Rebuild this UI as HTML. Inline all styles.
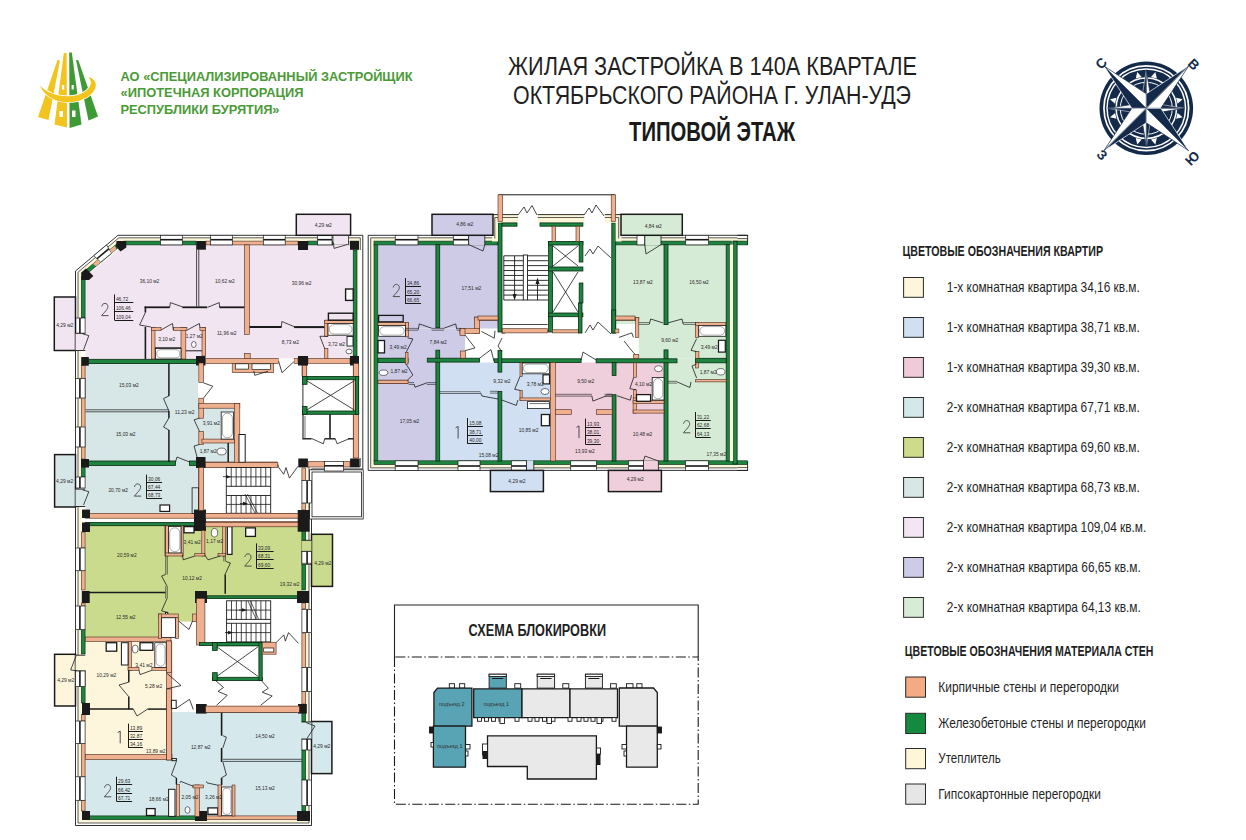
<!DOCTYPE html>
<html><head><meta charset="utf-8"><style>
html,body{margin:0;padding:0;background:#fff;width:1246px;height:840px;overflow:hidden}
svg{display:block}
</style></head><body>
<svg width="1246" height="840" viewBox="0 0 1246 840">
<polygon points="57.5,60 60,60.5 48.5,120 38,117" fill="#f2c41e"/>
<polygon points="63.8,53 66.6,53 67,127.5 54.5,124.5" fill="#f2c41e"/>
<polygon points="69.2,52.5 71.8,52.5 81.5,124.5 69.6,128" fill="#3d9a34"/>
<polygon points="76,60 78.3,60.3 98,116.5 88.5,120.5" fill="#3d9a34"/>
<rect x="62" y="85" width="2.2" height="4.5" fill="#fff"/>
<rect x="71.6" y="85" width="2.2" height="4.5" fill="#fff"/>
<rect x="59.5" y="111" width="3.5" height="6" fill="#fff"/>
<rect x="72" y="110.5" width="3.5" height="6.5" fill="#fff"/>
<path d="M40,83 C44,94 57,99.8 67.5,99.8 C82,99.8 96,92 95.8,82 C95.5,78 92.5,75.5 88.5,74.5 C91.2,78 91.5,81 90,84 C86,90.5 77,93.8 67,93.8 C56,93.8 46,89.5 40,83 Z" fill="#f2c41e" stroke="#fff" stroke-width="1.6" transform="translate(0,2.4)"/>
<path d="M40,83 C44,94 57,99.8 67.5,99.8 C82,99.8 96,92 95.8,82 C95.5,78 92.5,75.5 88.5,74.5 C91.2,78 91.5,81 90,84 C86,90.5 77,93.8 67,93.8 C56,93.8 46,89.5 40,83 Z" fill="#f2c41e" transform="translate(0,2.4)"/>
<text x="120.5" y="81.3" font-family="Liberation Sans" font-size="12.4" font-weight="bold" fill="#4a9a36" text-anchor="start" textLength="292" lengthAdjust="spacingAndGlyphs">АО «СПЕЦИАЛИЗИРОВАННЫЙ ЗАСТРОЙЩИК</text>
<text x="120.5" y="97.4" font-family="Liberation Sans" font-size="12.4" font-weight="bold" fill="#4a9a36" text-anchor="start" textLength="183" lengthAdjust="spacingAndGlyphs">«ИПОТЕЧНАЯ КОРПОРАЦИЯ</text>
<text x="120.5" y="113.5" font-family="Liberation Sans" font-size="12.4" font-weight="bold" fill="#4a9a36" text-anchor="start" textLength="159" lengthAdjust="spacingAndGlyphs">РЕСПУБЛИКИ БУРЯТИЯ»</text>
<text x="508" y="74.7" font-family="Liberation Sans" font-size="25.6" font-weight="normal" fill="#1f1f1f" text-anchor="start" textLength="409" lengthAdjust="spacingAndGlyphs">ЖИЛАЯ ЗАСТРОЙКА В 140А КВАРТАЛЕ</text>
<text x="513" y="104.4" font-family="Liberation Sans" font-size="25.6" font-weight="normal" fill="#1f1f1f" text-anchor="start" textLength="398" lengthAdjust="spacingAndGlyphs">ОКТЯБРЬСКОГО РАЙОНА Г. УЛАН-УДЭ</text>
<text x="629" y="140.8" font-family="Liberation Sans" font-size="26.9" font-weight="bold" fill="#1a1a1a" text-anchor="start" textLength="166" lengthAdjust="spacingAndGlyphs">ТИПОВОЙ ЭТАЖ</text>
<circle cx="1146.3" cy="108.3" r="46.8" fill="#142a4a"/>
<circle cx="1146.3" cy="108.3" r="42.35" fill="none" stroke="#fff" stroke-width="1.7"/>
<circle cx="1146.3" cy="108.3" r="39.25" fill="none" stroke="#fff" stroke-width="1.5"/>
<circle cx="1146.3" cy="108.3" r="30.2" fill="none" stroke="#fff" stroke-width="1.5"/>
<circle cx="1146.3" cy="108.3" r="26.0" fill="none" stroke="#fff" stroke-width="1.0"/>
<polygon points="1135.75,78.51 1137.25,72.01 1141.63,77.05" fill="#fff"/>
<polygon points="1150.97,77.05 1155.35,72.01 1156.85,78.51" fill="#fff"/>
<polygon points="1176.09,97.75 1182.59,99.25 1177.55,103.63" fill="#fff"/>
<polygon points="1177.55,112.97 1182.59,117.35 1176.09,118.85" fill="#fff"/>
<polygon points="1156.85,138.09 1155.35,144.59 1150.97,139.55" fill="#fff"/>
<polygon points="1141.63,139.55 1137.25,144.59 1135.75,138.09" fill="#fff"/>
<polygon points="1116.51,118.85 1110.01,117.35 1115.05,112.97" fill="#fff"/>
<polygon points="1115.05,103.63 1110.01,99.25 1116.51,97.75" fill="#fff"/>
<polygon points="1146.3,108.3 1146.3,69.8 1141.0,103.0" fill="#142a4a" stroke="#fff" stroke-width="0.5" stroke-linejoin="miter"/>
<polygon points="1146.3,108.3 1146.3,69.8 1151.6,103.0" fill="#fff" stroke="#142a4a" stroke-width="0.7" stroke-linejoin="miter"/>
<polygon points="1146.3,108.3 1184.8,108.3 1151.6,103.0" fill="#142a4a" stroke="#fff" stroke-width="0.5" stroke-linejoin="miter"/>
<polygon points="1146.3,108.3 1184.8,108.3 1151.6,113.6" fill="#fff" stroke="#142a4a" stroke-width="0.7" stroke-linejoin="miter"/>
<polygon points="1146.3,108.3 1146.3,146.8 1151.6,113.6" fill="#142a4a" stroke="#fff" stroke-width="0.5" stroke-linejoin="miter"/>
<polygon points="1146.3,108.3 1146.3,146.8 1141.0,113.6" fill="#fff" stroke="#142a4a" stroke-width="0.7" stroke-linejoin="miter"/>
<polygon points="1146.3,108.3 1107.8,108.3 1141.0,113.6" fill="#142a4a" stroke="#fff" stroke-width="0.5" stroke-linejoin="miter"/>
<polygon points="1146.3,108.3 1107.8,108.3 1141.0,103.0" fill="#fff" stroke="#142a4a" stroke-width="0.7" stroke-linejoin="miter"/>
<polygon points="1146.3,108.3 1188.73,65.87 1146.3,93.8" fill="#142a4a" stroke="#fff" stroke-width="0.7" stroke-linejoin="miter"/>
<polygon points="1146.3,108.3 1188.73,65.87 1160.8,108.3" fill="#fff" stroke="#142a4a" stroke-width="0.7" stroke-linejoin="miter"/>
<polygon points="1146.3,108.3 1188.73,150.73 1160.8,108.3" fill="#142a4a" stroke="#fff" stroke-width="0.7" stroke-linejoin="miter"/>
<polygon points="1146.3,108.3 1188.73,150.73 1146.3,122.8" fill="#fff" stroke="#142a4a" stroke-width="0.7" stroke-linejoin="miter"/>
<polygon points="1146.3,108.3 1103.87,150.73 1146.3,122.8" fill="#142a4a" stroke="#fff" stroke-width="0.7" stroke-linejoin="miter"/>
<polygon points="1146.3,108.3 1103.87,150.73 1131.8,108.3" fill="#fff" stroke="#142a4a" stroke-width="0.7" stroke-linejoin="miter"/>
<polygon points="1146.3,108.3 1103.87,65.87 1131.8,108.3" fill="#142a4a" stroke="#fff" stroke-width="0.7" stroke-linejoin="miter"/>
<polygon points="1146.3,108.3 1103.87,65.87 1146.3,93.8" fill="#fff" stroke="#142a4a" stroke-width="0.7" stroke-linejoin="miter"/>
<text x="1101.2" y="63.3" font-family="Liberation Sans" font-size="13.5" font-weight="bold" fill="#142a4a" text-anchor="middle" dominant-baseline="central" transform="rotate(-45 1101.2 63.3)">С</text>
<text x="1193.6" y="64.6" font-family="Liberation Sans" font-size="13.5" font-weight="bold" fill="#142a4a" text-anchor="middle" dominant-baseline="central" transform="rotate(45 1193.6 64.6)">В</text>
<text x="1102" y="155" font-family="Liberation Sans" font-size="13.5" font-weight="bold" fill="#142a4a" text-anchor="middle" dominant-baseline="central" transform="rotate(45 1102 155)">З</text>
<text x="1192.5" y="158.3" font-family="Liberation Sans" font-size="13.5" font-weight="bold" fill="#142a4a" text-anchor="middle" dominant-baseline="central" transform="rotate(-45 1192.5 158.3)">Ю</text>
<text x="902.5" y="256" font-family="Liberation Sans" font-size="13.9" font-weight="bold" fill="#1f1f1f" text-anchor="start" textLength="200.5" lengthAdjust="spacingAndGlyphs">ЦВЕТОВЫЕ ОБОЗНАЧЕНИЯ КВАРТИР</text>
<rect x="903.6" y="277.5" width="19.8" height="19.8" fill="#fdf6dc" stroke="#2a2a2a" stroke-width="1.0"/>
<text x="946.8" y="291.9" font-family="Liberation Sans" font-size="14.1" font-weight="normal" fill="#1f1f1f" text-anchor="start" textLength="193" lengthAdjust="spacingAndGlyphs">1-х комнатная квартира 34,16 кв.м.</text>
<rect x="903.6" y="317.5" width="19.8" height="19.8" fill="#d0e0f2" stroke="#2a2a2a" stroke-width="1.0"/>
<text x="946.8" y="331.9" font-family="Liberation Sans" font-size="14.1" font-weight="normal" fill="#1f1f1f" text-anchor="start" textLength="193" lengthAdjust="spacingAndGlyphs">1-х комнатная квартира 38,71 кв.м.</text>
<rect x="903.6" y="357.5" width="19.8" height="19.8" fill="#efcbd9" stroke="#2a2a2a" stroke-width="1.0"/>
<text x="946.8" y="371.9" font-family="Liberation Sans" font-size="14.1" font-weight="normal" fill="#1f1f1f" text-anchor="start" textLength="193" lengthAdjust="spacingAndGlyphs">1-х комнатная квартира 39,30 кв.м.</text>
<rect x="903.6" y="397.5" width="19.8" height="19.8" fill="#d4e8ea" stroke="#2a2a2a" stroke-width="1.0"/>
<text x="946.8" y="411.9" font-family="Liberation Sans" font-size="14.1" font-weight="normal" fill="#1f1f1f" text-anchor="start" textLength="193" lengthAdjust="spacingAndGlyphs">2-х комнатная квартира 67,71 кв.м.</text>
<rect x="903.6" y="437.5" width="19.8" height="19.8" fill="#cddb8b" stroke="#2a2a2a" stroke-width="1.0"/>
<text x="946.8" y="451.9" font-family="Liberation Sans" font-size="14.1" font-weight="normal" fill="#1f1f1f" text-anchor="start" textLength="193" lengthAdjust="spacingAndGlyphs">2-х комнатная квартира 69,60 кв.м.</text>
<rect x="903.6" y="477.5" width="19.8" height="19.8" fill="#d8e6e6" stroke="#2a2a2a" stroke-width="1.0"/>
<text x="946.8" y="491.9" font-family="Liberation Sans" font-size="14.1" font-weight="normal" fill="#1f1f1f" text-anchor="start" textLength="193" lengthAdjust="spacingAndGlyphs">2-х комнатная квартира 68,73 кв.м.</text>
<rect x="903.6" y="517.5" width="19.8" height="19.8" fill="#f3e5f3" stroke="#2a2a2a" stroke-width="1.0"/>
<text x="946.8" y="531.9" font-family="Liberation Sans" font-size="14.1" font-weight="normal" fill="#1f1f1f" text-anchor="start" textLength="199.5" lengthAdjust="spacingAndGlyphs">2-х комнатная квартира 109,04 кв.м.</text>
<rect x="903.6" y="557.5" width="19.8" height="19.8" fill="#cdcbe8" stroke="#2a2a2a" stroke-width="1.0"/>
<text x="946.8" y="571.9" font-family="Liberation Sans" font-size="14.1" font-weight="normal" fill="#1f1f1f" text-anchor="start" textLength="194" lengthAdjust="spacingAndGlyphs">2-х комнатная квартира 66,65 кв.м.</text>
<rect x="903.6" y="597.5" width="19.8" height="19.8" fill="#d7ecd6" stroke="#2a2a2a" stroke-width="1.0"/>
<text x="946.8" y="611.9" font-family="Liberation Sans" font-size="14.1" font-weight="normal" fill="#1f1f1f" text-anchor="start" textLength="194" lengthAdjust="spacingAndGlyphs">2-х комнатная квартира 64,13 кв.м.</text>
<text x="904.8" y="656" font-family="Liberation Sans" font-size="13.9" font-weight="bold" fill="#1f1f1f" text-anchor="start" textLength="248.6" lengthAdjust="spacingAndGlyphs">ЦВЕТОВЫЕ ОБОЗНАЧЕНИЯ МАТЕРИАЛА СТЕН</text>
<rect x="905.7" y="677" width="19.8" height="20.2" fill="#f4aa82" stroke="#2a2a2a" stroke-width="1.0"/>
<text x="938.3" y="691.8" font-family="Liberation Sans" font-size="14.1" font-weight="normal" fill="#1f1f1f" text-anchor="start" textLength="180.7" lengthAdjust="spacingAndGlyphs">Кирпичные стены и перегородки</text>
<rect x="905.7" y="713.3" width="19.8" height="20.2" fill="#138a3d" stroke="#2a2a2a" stroke-width="1.0"/>
<text x="938.3" y="728.0999999999999" font-family="Liberation Sans" font-size="14.1" font-weight="normal" fill="#1f1f1f" text-anchor="start" textLength="207.5" lengthAdjust="spacingAndGlyphs">Железобетоные стены и перегородки</text>
<rect x="905.7" y="748.5" width="19.8" height="20.2" fill="#fdf7d8" stroke="#2a2a2a" stroke-width="1.0"/>
<text x="938.3" y="763.3" font-family="Liberation Sans" font-size="14.1" font-weight="normal" fill="#1f1f1f" text-anchor="start" textLength="62.4" lengthAdjust="spacingAndGlyphs">Утеплитель</text>
<rect x="905.7" y="784" width="19.8" height="20.2" fill="#e6e6e6" stroke="#2a2a2a" stroke-width="1.0"/>
<text x="938.3" y="798.8" font-family="Liberation Sans" font-size="14.1" font-weight="normal" fill="#1f1f1f" text-anchor="start" textLength="162.6" lengthAdjust="spacingAndGlyphs">Гипсокартонные перегородки</text>
<polygon points="75.5,271 118,235.3 362.8,235.3 362.8,469 311.5,469 311.5,825.5 75.5,825.5" fill="#ffffff" stroke="#1a1a1a" stroke-width="0.9" stroke-linejoin="miter"/>
<polygon points="78.0,272.16 118.91,237.8 360.3,237.8 360.3,466.5 309.0,466.5 309.0,823.0 78.0,823.0" fill="#fbf5d9" stroke="#1a1a1a" stroke-width="0.7" stroke-linejoin="miter"/>
<polygon points="81.3,273.7 120.11,241.1 357.0,241.1 357.0,463.2 305.7,463.2 305.7,819.7 81.3,819.7" fill="#ffffff"/>
<polygon points="85.5,276.5 124,244.9 353.2,244.9 353.2,359 85.5,359" fill="#f2e5f2"/>
<rect x="85.5" y="363" width="112.5" height="151" fill="#d7e6e6"/>
<rect x="198" y="404" width="41" height="58" fill="#d7e6e6"/>
<rect x="85.5" y="525" width="216.5" height="71" fill="#cadb8d"/>
<rect x="85.5" y="596" width="79.9" height="41" fill="#cadb8d"/>
<rect x="165" y="596" width="32" height="25.6" fill="#cadb8d"/>
<rect x="85.5" y="641" width="80.5" height="113" fill="#fdf6dc"/>
<rect x="85.5" y="759" width="89.5" height="57" fill="#d5e8ec"/>
<rect x="172" y="712" width="130" height="104" fill="#d5e8ec"/>
<rect x="309.6" y="469.8" width="53.6" height="49.2" fill="#fff" stroke="#1a1a1a" stroke-width="0.8"/>
<rect x="312" y="472" width="49.4" height="44.8" fill="#fff" stroke="#1a1a1a" stroke-width="0.8"/>
<rect x="124" y="241.10000000000002" width="72" height="3.8" fill="#1e8440" stroke="#062a12" stroke-width="0.6"/>
<rect x="206" y="241.10000000000002" width="92" height="3.8" fill="#eeb08e" stroke="#4a2a1c" stroke-width="0.6"/>
<rect x="308" y="241.10000000000002" width="41" height="3.8" fill="#1e8440" stroke="#062a12" stroke-width="0.6"/>
<rect x="160.4" y="235.3" width="21.9" height="9.6" fill="#fff" stroke="#1a1a1a" stroke-width="0.7"/>
<rect x="160.4" y="238.9" width="21.9" height="1.6" fill="#1a1a1a"/>
<rect x="210.6" y="235.3" width="21.7" height="9.6" fill="#fff" stroke="#1a1a1a" stroke-width="0.7"/>
<rect x="210.6" y="238.9" width="21.7" height="1.6" fill="#1a1a1a"/>
<rect x="263.3" y="235.3" width="21.9" height="9.6" fill="#fff" stroke="#1a1a1a" stroke-width="0.7"/>
<rect x="263.3" y="238.9" width="21.9" height="1.6" fill="#1a1a1a"/>
<rect x="317.6" y="235.3" width="14.4" height="9.6" fill="#fff" stroke="#1a1a1a" stroke-width="0.7"/>
<rect x="317.6" y="238.9" width="14.4" height="1.6" fill="#1a1a1a"/>
<polygon points="81.3,273.7 120.11,241.1 121.5,244.9 85.1,275.47" fill="#1e8440" stroke="#062a12" stroke-width="0.6" stroke-linejoin="miter"/>
<polygon points="93.775,255.649 106.525,244.93900000000002 111.672,253.15390000000002 100.752,262.3249" fill="#fff" stroke="#1a1a1a" stroke-width="0.7" stroke-linejoin="miter"/>
<polygon points="96.3903,258.1546 108.4533,248.0206 109.3087,249.3884 97.5517,259.2644" fill="#1a1a1a"/>
<polygon points="92.943,263.92 97.9883,259.682 100.752,262.3249 96.02,266.29900000000004" fill="#eeb08e"/>
<polygon points="109.6313,249.902 114.67660000000001,245.664 116.404,249.1798 111.672,253.15390000000002" fill="#eeb08e"/>
<rect x="81.3" y="276" width="3.8" height="42" fill="#1e8440" stroke="#062a12" stroke-width="0.6"/>
<rect x="81.3" y="365" width="3.8" height="94" fill="#eeb08e" stroke="#4a2a1c" stroke-width="0.6"/>
<rect x="81.3" y="467" width="3.8" height="10" fill="#1e8440" stroke="#062a12" stroke-width="0.6"/>
<rect x="81.3" y="532" width="3.8" height="16" fill="#eeb08e" stroke="#4a2a1c" stroke-width="0.6"/>
<rect x="81.3" y="570.7" width="3.8" height="19.3" fill="#eeb08e" stroke="#4a2a1c" stroke-width="0.6"/>
<rect x="81.3" y="603" width="3.8" height="3" fill="#eeb08e" stroke="#4a2a1c" stroke-width="0.6"/>
<rect x="81.3" y="629.6" width="3.8" height="24.4" fill="#1e8440" stroke="#062a12" stroke-width="0.6"/>
<rect x="81.3" y="685.7" width="3.8" height="17.3" fill="#1e8440" stroke="#062a12" stroke-width="0.6"/>
<rect x="81.3" y="714.6" width="3.8" height="6.4" fill="#eeb08e" stroke="#4a2a1c" stroke-width="0.6"/>
<rect x="81.3" y="743.6" width="3.8" height="33.2" fill="#eeb08e" stroke="#4a2a1c" stroke-width="0.6"/>
<rect x="81.3" y="800.3" width="3.8" height="10.7" fill="#eeb08e" stroke="#4a2a1c" stroke-width="0.6"/>
<rect x="75.5" y="318" width="9.6" height="15.3" fill="#fff" stroke="#1a1a1a" stroke-width="0.7"/>
<rect x="79.1" y="318" width="1.6" height="15.3" fill="#1a1a1a"/>
<rect x="75.5" y="378.6" width="9.6" height="19.4" fill="#fff" stroke="#1a1a1a" stroke-width="0.7"/>
<rect x="79.1" y="378.6" width="1.6" height="19.4" fill="#1a1a1a"/>
<rect x="75.5" y="427" width="9.6" height="20" fill="#fff" stroke="#1a1a1a" stroke-width="0.7"/>
<rect x="79.1" y="427" width="1.6" height="20" fill="#1a1a1a"/>
<rect x="75.5" y="477" width="9.6" height="11" fill="#fff" stroke="#1a1a1a" stroke-width="0.7"/>
<rect x="79.1" y="477" width="1.6" height="11" fill="#1a1a1a"/>
<rect x="75.5" y="548" width="9.6" height="22.7" fill="#fff" stroke="#1a1a1a" stroke-width="0.7"/>
<rect x="79.1" y="548" width="1.6" height="22.7" fill="#1a1a1a"/>
<rect x="75.5" y="606" width="9.6" height="23.6" fill="#fff" stroke="#1a1a1a" stroke-width="0.7"/>
<rect x="79.1" y="606" width="1.6" height="23.6" fill="#1a1a1a"/>
<rect x="75.5" y="670.7" width="9.6" height="15.0" fill="#fff" stroke="#1a1a1a" stroke-width="0.7"/>
<rect x="79.1" y="670.7" width="1.6" height="15.0" fill="#1a1a1a"/>
<rect x="75.5" y="721" width="9.6" height="22.6" fill="#fff" stroke="#1a1a1a" stroke-width="0.7"/>
<rect x="79.1" y="721" width="1.6" height="22.6" fill="#1a1a1a"/>
<rect x="75.5" y="776.8" width="9.6" height="23.5" fill="#fff" stroke="#1a1a1a" stroke-width="0.7"/>
<rect x="79.1" y="776.8" width="1.6" height="23.5" fill="#1a1a1a"/>
<rect x="85.5" y="815.9" width="110.5" height="3.8" fill="#1e8440" stroke="#062a12" stroke-width="0.6"/>
<rect x="206" y="815.9" width="92" height="3.8" fill="#eeb08e" stroke="#4a2a1c" stroke-width="0.6"/>
<rect x="301.9" y="468" width="3.8" height="12.5" fill="#eeb08e" stroke="#4a2a1c" stroke-width="0.6"/>
<rect x="301.9" y="503" width="3.8" height="7" fill="#eeb08e" stroke="#4a2a1c" stroke-width="0.6"/>
<rect x="301.9" y="531" width="3.8" height="21" fill="#1e8440" stroke="#062a12" stroke-width="0.6"/>
<rect x="301.9" y="564.3" width="3.8" height="25.7" fill="#1e8440" stroke="#062a12" stroke-width="0.6"/>
<rect x="301.9" y="603" width="3.8" height="6" fill="#eeb08e" stroke="#4a2a1c" stroke-width="0.6"/>
<rect x="301.9" y="633" width="3.8" height="34.4" fill="#eeb08e" stroke="#4a2a1c" stroke-width="0.6"/>
<rect x="301.9" y="691.4" width="3.8" height="12.6" fill="#eeb08e" stroke="#4a2a1c" stroke-width="0.6"/>
<rect x="301.9" y="713.6" width="3.8" height="8.4" fill="#1e8440" stroke="#062a12" stroke-width="0.6"/>
<rect x="301.9" y="750" width="3.8" height="30" fill="#1e8440" stroke="#062a12" stroke-width="0.6"/>
<rect x="301.9" y="805.7" width="3.8" height="5.3" fill="#1e8440" stroke="#062a12" stroke-width="0.6"/>
<rect x="301.9" y="480.5" width="9.6" height="22.5" fill="#fff" stroke="#1a1a1a" stroke-width="0.7"/>
<rect x="306.3" y="480.5" width="1.6" height="22.5" fill="#1a1a1a"/>
<rect x="301.9" y="552.5" width="9.6" height="11.8" fill="#fff" stroke="#1a1a1a" stroke-width="0.7"/>
<rect x="306.3" y="552.5" width="1.6" height="11.8" fill="#1a1a1a"/>
<rect x="301.9" y="609.3" width="9.6" height="23.3" fill="#fff" stroke="#1a1a1a" stroke-width="0.7"/>
<rect x="306.3" y="609.3" width="1.6" height="23.3" fill="#1a1a1a"/>
<rect x="301.9" y="667.4" width="9.6" height="24.0" fill="#fff" stroke="#1a1a1a" stroke-width="0.7"/>
<rect x="306.3" y="667.4" width="1.6" height="24.0" fill="#1a1a1a"/>
<rect x="301.9" y="739" width="9.6" height="11" fill="#fff" stroke="#1a1a1a" stroke-width="0.7"/>
<rect x="306.3" y="739" width="1.6" height="11" fill="#1a1a1a"/>
<rect x="301.9" y="780" width="9.6" height="25.7" fill="#fff" stroke="#1a1a1a" stroke-width="0.7"/>
<rect x="306.3" y="780" width="1.6" height="25.7" fill="#1a1a1a"/>
<rect x="358.3" y="250" width="3.7" height="208" fill="#fff"/>
<rect x="353.2" y="250" width="3.8" height="106" fill="#1e8440" stroke="#062a12" stroke-width="0.6"/>
<rect x="353.2" y="365" width="3.8" height="93" fill="#eeb08e" stroke="#4a2a1c" stroke-width="0.6"/>
<rect x="85.5" y="359.3" width="111.5" height="4.3" fill="#1e8440" stroke="#062a12" stroke-width="0.8"/>
<rect x="85.5" y="461" width="90.0" height="4.4" fill="#1e8440" stroke="#062a12" stroke-width="0.8"/>
<rect x="189.5" y="461" width="7.5" height="4.4" fill="#1e8440" stroke="#062a12" stroke-width="0.8"/>
<rect x="85.5" y="522.5" width="111.5" height="3.2" fill="#1e8440" stroke="#062a12" stroke-width="0.8"/>
<rect x="207" y="595.8" width="91" height="2.8" fill="#1e8440" stroke="#062a12" stroke-width="0.8"/>
<rect x="308" y="358.6" width="42" height="4.7" fill="#eeb08e" stroke="#4a2a1c" stroke-width="0.6"/>
<rect x="205" y="462" width="72" height="5" fill="#eeb08e" stroke="#4a2a1c" stroke-width="0.6"/>
<rect x="308" y="461.4" width="16.5" height="5.6" fill="#eeb08e" stroke="#4a2a1c" stroke-width="0.6"/>
<rect x="343.6" y="461.4" width="6.4" height="5.6" fill="#eeb08e" stroke="#4a2a1c" stroke-width="0.6"/>
<rect x="85.5" y="513.3" width="110.5" height="4.9" fill="#eeb08e" stroke="#4a2a1c" stroke-width="0.6"/>
<rect x="206" y="513.3" width="92" height="4.7" fill="#eeb08e" stroke="#4a2a1c" stroke-width="0.6"/>
<rect x="206" y="521.4" width="92" height="4.6" fill="#eeb08e" stroke="#4a2a1c" stroke-width="0.6"/>
<rect x="85.5" y="637" width="85.5" height="4.4" fill="#eeb08e" stroke="#4a2a1c" stroke-width="0.6"/>
<rect x="85.5" y="754.3" width="86.5" height="5.3" fill="#eeb08e" stroke="#4a2a1c" stroke-width="0.6"/>
<rect x="206" y="707" width="91" height="5.5" fill="#eeb08e" stroke="#4a2a1c" stroke-width="0.6"/>
<rect x="244.3" y="244.9" width="5.1" height="89.5" fill="#eeb08e" stroke="#4a2a1c" stroke-width="0.6"/>
<rect x="166.4" y="641" width="5.4" height="119" fill="#eeb08e" stroke="#4a2a1c" stroke-width="0.6"/>
<rect x="302" y="363" width="4.7" height="13" fill="#eeb08e" stroke="#4a2a1c" stroke-width="0.6"/>
<rect x="324.5" y="461.4" width="19.1" height="9.6" fill="#fff" stroke="#1a1a1a" stroke-width="0.7"/>
<rect x="324.5" y="465.0" width="19.1" height="1.6" fill="#1a1a1a"/>
<polygon points="116.5,241 126.3,241 126.3,247.6 120.5,251.4 116,246.5" fill="#1a1a1a"/>
<polygon points="81.3,272.5 86,268.6 93.4,276 89,280 81.3,280" fill="#1a1a1a"/>
<rect x="196.2" y="241" width="9.7" height="8.7" fill="#1a1a1a"/>
<rect x="298" y="241" width="10" height="9" fill="#1a1a1a"/>
<rect x="350" y="240.8" width="9" height="9.0" fill="#1a1a1a"/>
<rect x="81.2" y="357" width="7.6" height="8.7" fill="#1a1a1a"/>
<rect x="196" y="356" width="9.5" height="9.5" fill="#1a1a1a"/>
<rect x="298" y="356" width="10" height="9.5" fill="#1a1a1a"/>
<rect x="350" y="356" width="9" height="9.5" fill="#1a1a1a"/>
<rect x="81" y="459" width="8" height="8.5" fill="#1a1a1a"/>
<rect x="196" y="457" width="9.5" height="11" fill="#1a1a1a"/>
<rect x="298.3" y="458.5" width="9.6" height="8.9" fill="#1a1a1a"/>
<rect x="350.1" y="458.5" width="9.5" height="8.9" fill="#1a1a1a"/>
<rect x="82" y="509.6" width="8" height="8.4" fill="#1a1a1a"/>
<rect x="194" y="509.6" width="12" height="21.4" fill="#1a1a1a"/>
<rect x="297.7" y="510" width="11.9" height="21.7" fill="#1a1a1a"/>
<rect x="82" y="522.5" width="8" height="9.5" fill="#1a1a1a"/>
<rect x="195" y="591" width="12" height="12" fill="#1a1a1a"/>
<rect x="297" y="591" width="12" height="12" fill="#1a1a1a"/>
<rect x="81.8" y="591" width="7.9" height="12" fill="#1a1a1a"/>
<rect x="82" y="703" width="8" height="12" fill="#1a1a1a"/>
<rect x="196" y="704" width="10.7" height="9.6" fill="#1a1a1a"/>
<rect x="298" y="704" width="8.8" height="9.6" fill="#1a1a1a"/>
<rect x="82" y="811" width="8" height="9" fill="#1a1a1a"/>
<rect x="195" y="811" width="12" height="10" fill="#1a1a1a"/>
<rect x="297" y="811" width="13" height="10" fill="#1a1a1a"/>
<line x1="196.6" y1="249.7" x2="196.6" y2="306.5" stroke="#1a1a1a" stroke-width="0.8"/>
<line x1="198.8" y1="249.7" x2="198.8" y2="306.5" stroke="#1a1a1a" stroke-width="0.8"/>
<line x1="144.6" y1="307.3" x2="169.6" y2="307.3" stroke="#1a1a1a" stroke-width="1.8"/>
<line x1="182.2" y1="307.3" x2="207.2" y2="307.3" stroke="#1a1a1a" stroke-width="1.8"/>
<line x1="219.7" y1="307.3" x2="244.3" y2="307.3" stroke="#1a1a1a" stroke-width="1.8"/>
<polyline points="169.6,307.8 170.4,302.6 182.2,306.8" fill="none" stroke="#1a1a1a" stroke-width="0.8" stroke-linejoin="miter"/>
<polyline points="207.7,307.3 219.2,302.6 219.7,307.8" fill="none" stroke="#1a1a1a" stroke-width="0.8" stroke-linejoin="miter"/>
<line x1="145.4" y1="306.5" x2="145.4" y2="312.5" stroke="#1a1a1a" stroke-width="1.6"/>
<polyline points="145.4,312.5 139.6,325 150.9,327" fill="none" stroke="#1a1a1a" stroke-width="0.8" stroke-linejoin="miter"/>
<line x1="145.4" y1="327" x2="145.4" y2="359" stroke="#1a1a1a" stroke-width="1.6"/>
<rect x="151.4" y="327.6" width="3.6" height="31.4" fill="#eeb08e" stroke="#4a2a1c" stroke-width="0.6"/>
<rect x="181" y="327.6" width="4.8" height="31.4" fill="#eeb08e" stroke="#4a2a1c" stroke-width="0.6"/>
<rect x="202" y="327.6" width="3.6" height="28.4" fill="#eeb08e" stroke="#4a2a1c" stroke-width="0.6"/>
<rect x="151.4" y="327.6" width="9.6" height="2.7" fill="#eeb08e" stroke="#4a2a1c" stroke-width="0.6"/>
<rect x="173.3" y="327.6" width="13.6" height="2.7" fill="#eeb08e" stroke="#4a2a1c" stroke-width="0.6"/>
<rect x="199.9" y="327.6" width="5.7" height="2.7" fill="#eeb08e" stroke="#4a2a1c" stroke-width="0.6"/>
<polyline points="161,330 172.5,323.5 173.3,330" fill="none" stroke="#1a1a1a" stroke-width="0.8" stroke-linejoin="miter"/>
<polyline points="186.9,330.2 199.4,323.5 199.9,327.6" fill="none" stroke="#1a1a1a" stroke-width="0.8" stroke-linejoin="miter"/>
<rect x="155.5" y="348.5" width="25.5" height="10.5" fill="#fff" stroke="#1a1a1a" stroke-width="0.8"/>
<rect x="156.7" y="349.7" width="23.1" height="8.1" rx="4.05" fill="#fff" stroke="#555" stroke-width="0.5"/>
<line x1="155" y1="347.8" x2="181" y2="347.8" stroke="#1a1a1a" stroke-width="1.0"/>
<line x1="185.8" y1="350.8" x2="202" y2="350.8" stroke="#1a1a1a" stroke-width="1.0"/>
<ellipse cx="193.8" cy="344.5" rx="2.3" ry="3.0" fill="#fff" stroke="#1a1a1a" stroke-width="0.6" transform="rotate(0 193.8 344.5)"/>
<line x1="249.6" y1="327.1" x2="281.3" y2="327.1" stroke="#1a1a1a" stroke-width="2.0"/>
<line x1="294.1" y1="327.1" x2="324.7" y2="327.1" stroke="#1a1a1a" stroke-width="2.0"/>
<polyline points="281.3,327.6 281.8,321.5 294.1,326.6" fill="none" stroke="#1a1a1a" stroke-width="0.8" stroke-linejoin="miter"/>
<rect x="324.7" y="320.2" width="3.2" height="16.1" fill="#eeb08e" stroke="#4a2a1c" stroke-width="0.6"/>
<rect x="324.7" y="348.6" width="3.2" height="10.0" fill="#eeb08e" stroke="#4a2a1c" stroke-width="0.6"/>
<rect x="324.7" y="320.2" width="28.5" height="3.2" fill="#eeb08e" stroke="#4a2a1c" stroke-width="0.6"/>
<rect x="328" y="323.4" width="25.2" height="11.8" fill="#fff" stroke="#1a1a1a" stroke-width="0.8"/>
<rect x="329.2" y="324.59999999999997" width="22.8" height="9.4" rx="4.7000000000000055" fill="#fff" stroke="#555" stroke-width="0.5"/>
<rect x="328.4" y="313.2" width="24.8" height="7.0" fill="none" stroke="#1a1a1a" stroke-width="1.4"/>
<rect x="345.6" y="289" width="7.6" height="11.4" fill="#fff" stroke="#1a1a1a" stroke-width="1.4"/>
<polyline points="324.7,348.6 319.9,336.3 327.9,336.3" fill="none" stroke="#1a1a1a" stroke-width="0.8" stroke-linejoin="miter"/>
<rect x="347" y="336.5" width="6" height="9.5" fill="#fff" stroke="#1a1a1a" stroke-width="0.9"/>
<ellipse cx="349" cy="351.5" rx="3.0" ry="2.4" fill="#fff" stroke="#1a1a1a" stroke-width="0.6" transform="rotate(0 349 351.5)"/>
<rect x="244.3" y="353.4" width="5.9" height="5.6" fill="#eeb08e" stroke="#4a2a1c" stroke-width="0.6"/>
<line x1="168.9" y1="363.6" x2="168.9" y2="396" stroke="#1a1a1a" stroke-width="1.5"/>
<line x1="168.9" y1="411" x2="168.9" y2="418" stroke="#1a1a1a" stroke-width="1.5"/>
<line x1="168.9" y1="430" x2="168.9" y2="462" stroke="#1a1a1a" stroke-width="1.5"/>
<polyline points="168.9,396 163.5,398.5 168.9,411" fill="none" stroke="#1a1a1a" stroke-width="0.8" stroke-linejoin="miter"/>
<polyline points="168.9,418 163.5,427 168.9,430" fill="none" stroke="#1a1a1a" stroke-width="0.8" stroke-linejoin="miter"/>
<line x1="85.5" y1="409.8" x2="168.9" y2="409.8" stroke="#1a1a1a" stroke-width="0.7"/>
<line x1="85.5" y1="411.8" x2="168.9" y2="411.8" stroke="#1a1a1a" stroke-width="0.7"/>
<rect x="198.8" y="363" width="4.6" height="19.4" fill="#eeb08e" stroke="#4a2a1c" stroke-width="0.6"/>
<rect x="198.8" y="398.2" width="4.6" height="20.0" fill="#eeb08e" stroke="#4a2a1c" stroke-width="0.6"/>
<rect x="198.8" y="431.4" width="4.6" height="13.1" fill="#eeb08e" stroke="#4a2a1c" stroke-width="0.6"/>
<rect x="198.6" y="468" width="4.2" height="42" fill="#eeb08e" stroke="#4a2a1c" stroke-width="0.6"/>
<polyline points="203.4,382.8 212.8,386.3 203.4,398.2" fill="none" stroke="#1a1a1a" stroke-width="0.8" stroke-linejoin="miter"/>
<rect x="198.8" y="403.5" width="41.0" height="4.7" fill="#eeb08e" stroke="#4a2a1c" stroke-width="0.6"/>
<rect x="234.4" y="403.5" width="5.4" height="59.6" fill="#eeb08e" stroke="#4a2a1c" stroke-width="0.6"/>
<rect x="201.9" y="439.1" width="32.5" height="3.9" fill="#eeb08e" stroke="#4a2a1c" stroke-width="0.6"/>
<rect x="221.2" y="412" width="12.4" height="27.1" fill="#fff" stroke="#1a1a1a" stroke-width="0.8"/>
<rect x="222.39999999999998" y="413.2" width="10.0" height="24.7" rx="5.000000000000003" fill="#fff" stroke="#555" stroke-width="0.5"/>
<polyline points="199.5,418.2 194.1,419.8 199.5,431.4" fill="none" stroke="#1a1a1a" stroke-width="0.8" stroke-linejoin="miter"/>
<polyline points="199.5,444.5 194.1,446 197.2,457.7" fill="none" stroke="#1a1a1a" stroke-width="0.8" stroke-linejoin="miter"/>
<ellipse cx="221.6" cy="451.5" rx="4.6" ry="3.4" fill="#fff" stroke="#1a1a1a" stroke-width="0.6" transform="rotate(0 221.6 451.5)"/>
<line x1="228.2" y1="443" x2="228.2" y2="462" stroke="#1a1a1a" stroke-width="1.5"/>
<rect x="239" y="434.5" width="6.2" height="27.8" fill="#fff" stroke="#1a1a1a" stroke-width="1.0"/>
<polyline points="175.5,462 177,457 189.5,462" fill="none" stroke="#1a1a1a" stroke-width="0.8" stroke-linejoin="miter"/>
<rect x="192.1" y="487.8" width="6.5" height="25.8" fill="none" stroke="#1a1a1a" stroke-width="0.8"/>
<rect x="160" y="505" width="9.6" height="6.4" fill="#fff" stroke="#1a1a1a" stroke-width="1.2"/>
<line x1="165.4" y1="525.7" x2="165.4" y2="556" stroke="#1a1a1a" stroke-width="1.5"/>
<line x1="165.7" y1="556" x2="165.7" y2="574.5" stroke="#1a1a1a" stroke-width="0.6"/>
<line x1="167.3" y1="556" x2="167.3" y2="574.5" stroke="#1a1a1a" stroke-width="0.6"/>
<polyline points="165.5,574.5 161.6,576 167,586.1" fill="none" stroke="#1a1a1a" stroke-width="0.8" stroke-linejoin="miter"/>
<line x1="165.7" y1="586.1" x2="165.7" y2="598.5" stroke="#1a1a1a" stroke-width="0.6"/>
<line x1="167.3" y1="586.1" x2="167.3" y2="598.5" stroke="#1a1a1a" stroke-width="0.6"/>
<polyline points="167,598.5 161.6,610.8 167,612.4" fill="none" stroke="#1a1a1a" stroke-width="0.8" stroke-linejoin="miter"/>
<rect x="165.5" y="612.4" width="2.3" height="2.3" fill="#fff" stroke="#1a1a1a" stroke-width="1.0"/>
<line x1="165.4" y1="614.7" x2="165.4" y2="637" stroke="#1a1a1a" stroke-width="1.5"/>
<line x1="85.5" y1="592.6" x2="165.4" y2="592.6" stroke="#1a1a1a" stroke-width="1.5"/>
<rect x="165.5" y="525.8" width="3.0" height="30.2" fill="#eeb08e" stroke="#4a2a1c" stroke-width="0.6"/>
<rect x="181" y="525.8" width="2.2" height="30.2" fill="#eeb08e" stroke="#4a2a1c" stroke-width="0.6"/>
<rect x="165.5" y="552.9" width="17.0" height="3.1" fill="#eeb08e" stroke="#4a2a1c" stroke-width="0.6"/>
<rect x="168.5" y="526.6" width="12.5" height="26.3" fill="#fff" stroke="#1a1a1a" stroke-width="0.8"/>
<rect x="169.7" y="527.8000000000001" width="10.1" height="23.9" rx="5.05" fill="#fff" stroke="#555" stroke-width="0.5"/>
<rect x="184" y="526.6" width="10" height="6.2" fill="#fff" stroke="#1a1a1a" stroke-width="1.3"/>
<rect x="201.8" y="530.5" width="3.1" height="25.5" fill="#eeb08e" stroke="#4a2a1c" stroke-width="0.6"/>
<rect x="194.8" y="553.6" width="10.1" height="2.4" fill="#eeb08e" stroke="#4a2a1c" stroke-width="0.6"/>
<ellipse cx="214.5" cy="532.7" rx="3.2" ry="4.3" fill="#fff" stroke="#1a1a1a" stroke-width="0.6" transform="rotate(0 214.5 532.7)"/>
<rect x="222.6" y="525.8" width="3.1" height="30.2" fill="#eeb08e" stroke="#4a2a1c" stroke-width="0.6"/>
<rect x="218" y="553.6" width="7.7" height="2.4" fill="#eeb08e" stroke="#4a2a1c" stroke-width="0.6"/>
<rect x="227.3" y="526.6" width="4.7" height="27.8" fill="#fff" stroke="#1a1a1a" stroke-width="1.2"/>
<polyline points="182.5,555.2 183.2,559.8 194.8,556" fill="none" stroke="#1a1a1a" stroke-width="0.8" stroke-linejoin="miter"/>
<polyline points="204.9,555.2 208,559.8 220.3,556" fill="none" stroke="#1a1a1a" stroke-width="0.8" stroke-linejoin="miter"/>
<line x1="223.8" y1="556" x2="223.8" y2="561.4" stroke="#1a1a1a" stroke-width="0.6"/>
<line x1="225.4" y1="556" x2="225.4" y2="561.4" stroke="#1a1a1a" stroke-width="0.6"/>
<polyline points="225.7,561.4 230.4,563 225,574.5" fill="none" stroke="#1a1a1a" stroke-width="0.8" stroke-linejoin="miter"/>
<line x1="225.2" y1="574.5" x2="225.2" y2="593.8" stroke="#1a1a1a" stroke-width="1.5"/>
<rect x="245.7" y="527.9" width="9.7" height="8.5" fill="#fff" stroke="#1a1a1a" stroke-width="1.3"/>
<rect x="158.5" y="614" width="20.1" height="3.8" fill="#eeb08e" stroke="#4a2a1c" stroke-width="0.6"/>
<rect x="158.5" y="614" width="3.1" height="24.6" fill="#eeb08e" stroke="#4a2a1c" stroke-width="0.6"/>
<rect x="175.5" y="617.8" width="3.1" height="20.8" fill="#eeb08e" stroke="#4a2a1c" stroke-width="0.6"/>
<rect x="161.6" y="617.8" width="13.9" height="19.7" fill="#fff" stroke="#1a1a1a" stroke-width="0.8"/>
<rect x="192.5" y="614" width="3.9" height="7.6" fill="#eeb08e" stroke="#4a2a1c" stroke-width="0.6"/>
<polyline points="178.6,621 189,629.5 192.5,621" fill="none" stroke="#1a1a1a" stroke-width="0.8" stroke-linejoin="miter"/>
<rect x="128.1" y="641.7" width="3.3" height="28.6" fill="#eeb08e" stroke="#4a2a1c" stroke-width="0.6"/>
<rect x="128.1" y="667.4" width="10.9" height="2.9" fill="#eeb08e" stroke="#4a2a1c" stroke-width="0.6"/>
<rect x="151.9" y="667.4" width="14.8" height="2.9" fill="#eeb08e" stroke="#4a2a1c" stroke-width="0.6"/>
<polyline points="139,670.3 140,674.6 151.9,670.3" fill="none" stroke="#1a1a1a" stroke-width="0.8" stroke-linejoin="miter"/>
<rect x="106.2" y="642.7" width="10.5" height="8.5" fill="#fff" stroke="#1a1a1a" stroke-width="1.3"/>
<rect x="121.4" y="642.7" width="6.7" height="22.3" fill="#fff" stroke="#1a1a1a" stroke-width="1.0"/>
<ellipse cx="135.2" cy="649" rx="3.0" ry="4.0" fill="#fff" stroke="#1a1a1a" stroke-width="0.6" transform="rotate(0 135.2 649)"/>
<rect x="140" y="642.7" width="12.9" height="7.6" fill="#fff" stroke="#1a1a1a" stroke-width="1.3"/>
<rect x="154.8" y="642.7" width="11.4" height="24.7" fill="#fff" stroke="#1a1a1a" stroke-width="0.8"/>
<rect x="156.0" y="643.9000000000001" width="9.0" height="22.3" rx="4.4999999999999885" fill="#fff" stroke="#555" stroke-width="0.5"/>
<line x1="128.8" y1="670.3" x2="128.8" y2="682.2" stroke="#1a1a1a" stroke-width="1.5"/>
<line x1="128.8" y1="696.5" x2="128.8" y2="709.3" stroke="#1a1a1a" stroke-width="1.5"/>
<polyline points="128.6,682.2 119,685 128.6,696.5" fill="none" stroke="#1a1a1a" stroke-width="0.8" stroke-linejoin="miter"/>
<line x1="85.5" y1="709.1" x2="133.3" y2="709.1" stroke="#1a1a1a" stroke-width="1.5"/>
<line x1="147.6" y1="709.1" x2="166.7" y2="709.1" stroke="#1a1a1a" stroke-width="1.5"/>
<polyline points="133.3,709.1 137,716 147.6,709.1" fill="none" stroke="#1a1a1a" stroke-width="0.8" stroke-linejoin="miter"/>
<rect x="166.7" y="641" width="4.7" height="31.7" fill="#eeb08e" stroke="#4a2a1c" stroke-width="0.6"/>
<rect x="166.7" y="688.9" width="4.7" height="71.1" fill="#eeb08e" stroke="#4a2a1c" stroke-width="0.6"/>
<polyline points="166.7,673.1 181,685.5 166.7,688.9" fill="none" stroke="#1a1a1a" stroke-width="0.8" stroke-linejoin="miter"/>
<line x1="221.6" y1="712.5" x2="221.6" y2="735.7" stroke="#1a1a1a" stroke-width="1.6"/>
<line x1="221.6" y1="747.9" x2="221.6" y2="762" stroke="#1a1a1a" stroke-width="1.6"/>
<line x1="221.6" y1="777.9" x2="221.6" y2="785" stroke="#1a1a1a" stroke-width="1.6"/>
<polyline points="222.9,735.7 226.4,737.1 222.9,747.9" fill="none" stroke="#1a1a1a" stroke-width="0.8" stroke-linejoin="miter"/>
<polyline points="222.9,762 226.4,775 221.4,777.9" fill="none" stroke="#1a1a1a" stroke-width="0.8" stroke-linejoin="miter"/>
<line x1="222.9" y1="759.3" x2="301.9" y2="759.3" stroke="#1a1a1a" stroke-width="0.7"/>
<line x1="222.9" y1="761.4" x2="301.9" y2="761.4" stroke="#1a1a1a" stroke-width="0.7"/>
<rect x="172" y="758.6" width="4.4" height="2.1" fill="#fff" stroke="#1a1a1a" stroke-width="1.0"/>
<polyline points="176.4,761.4 171.4,775 176.4,777.9" fill="none" stroke="#1a1a1a" stroke-width="0.8" stroke-linejoin="miter"/>
<line x1="176.4" y1="777.9" x2="176.4" y2="784.3" stroke="#1a1a1a" stroke-width="1.4"/>
<rect x="176.4" y="784.3" width="2.9" height="32.1" fill="#eeb08e" stroke="#4a2a1c" stroke-width="0.6"/>
<rect x="168.6" y="789.3" width="6.4" height="27.1" fill="#fff" stroke="#1a1a1a" stroke-width="1.0"/>
<rect x="195" y="785" width="4.3" height="31.4" fill="#eeb08e" stroke="#4a2a1c" stroke-width="0.6"/>
<rect x="192.9" y="785" width="10.7" height="2.9" fill="#eeb08e" stroke="#4a2a1c" stroke-width="0.6"/>
<polyline points="180,782.9 180.7,781.4 193.6,786.4" fill="none" stroke="#1a1a1a" stroke-width="0.8" stroke-linejoin="miter"/>
<polyline points="206.4,781.4 207.1,782.9 220,785.7" fill="none" stroke="#1a1a1a" stroke-width="0.8" stroke-linejoin="miter"/>
<ellipse cx="187.5" cy="810" rx="2.5" ry="3.3" fill="#fff" stroke="#1a1a1a" stroke-width="0.6" transform="rotate(0 187.5 810)"/>
<rect x="207.9" y="807.9" width="10.0" height="6.4" fill="#fff" stroke="#1a1a1a" stroke-width="1.3"/>
<rect x="218" y="785" width="3.6" height="31" fill="#eeb08e" stroke="#4a2a1c" stroke-width="0.6"/>
<rect x="221.6" y="787" width="10.5" height="28.7" fill="#fff" stroke="#1a1a1a" stroke-width="0.8"/>
<rect x="222.79999999999998" y="788.2" width="8.1" height="26.3" rx="4.05" fill="#fff" stroke="#555" stroke-width="0.5"/>
<rect x="232.1" y="785" width="2.9" height="31" fill="#eeb08e" stroke="#4a2a1c" stroke-width="0.6"/>
<rect x="146.5" y="808.6" width="8.6" height="6.9" fill="#fff" stroke="#1a1a1a" stroke-width="1.3"/>
<rect x="205.7" y="358.5" width="72.9" height="4.9" fill="#eeb08e" stroke="#4a2a1c" stroke-width="0.6"/>
<rect x="294" y="358.5" width="4" height="4.9" fill="#eeb08e" stroke="#4a2a1c" stroke-width="0.6"/>
<rect x="278.6" y="358.5" width="15.4" height="4.9" fill="#fff"/>
<polyline points="278.6,361.2 282,372.7 294,361.6" fill="none" stroke="#1a1a1a" stroke-width="0.8" stroke-linejoin="miter"/>
<rect x="232.2" y="363.4" width="41.5" height="9.2" fill="#eeb08e" stroke="#4a2a1c" stroke-width="0.6"/>
<rect x="235.3" y="363.8" width="13.2" height="5.3" fill="#fff" stroke="#1a1a1a" stroke-width="0.7"/>
<rect x="252" y="363.8" width="18.6" height="5.8" fill="#fff" stroke="#1a1a1a" stroke-width="0.7"/>
<polyline points="253.8,370.9 254.7,375.3 268,371.3" fill="none" stroke="#1a1a1a" stroke-width="0.8" stroke-linejoin="miter"/>
<rect x="302.4" y="365.6" width="4.4" height="10.8" fill="#eeb08e" stroke="#4a2a1c" stroke-width="0.6"/>
<rect x="353.5" y="363.4" width="5.2" height="94.6" fill="#eeb08e" stroke="#4a2a1c" stroke-width="0.6"/>
<rect x="302.4" y="376.4" width="56.3" height="3.3" fill="#1e8440" stroke="#062a12" stroke-width="0.8"/>
<rect x="302.4" y="411.0" width="56.3" height="3.3" fill="#1e8440" stroke="#062a12" stroke-width="0.8"/>
<rect x="355.4" y="376.4" width="3.3" height="37.9" fill="#1e8440" stroke="#062a12" stroke-width="0.8"/>
<rect x="302.4" y="376.4" width="4.62" height="7.92" fill="#1e8440" stroke="#062a12" stroke-width="0.8"/>
<rect x="302.4" y="406.38" width="4.62" height="7.92" fill="#1e8440" stroke="#062a12" stroke-width="0.8"/>
<line x1="306.7" y1="380.7" x2="354.4" y2="410.0" stroke="#1a1a1a" stroke-width="0.8"/>
<line x1="354.4" y1="380.7" x2="306.7" y2="410.0" stroke="#1a1a1a" stroke-width="0.8"/>
<line x1="302.9" y1="384" x2="302.9" y2="406.5" stroke="#1a1a1a" stroke-width="0.9"/>
<line x1="303" y1="414.3" x2="303" y2="438.5" stroke="#1a1a1a" stroke-width="1.1"/>
<line x1="305" y1="416" x2="305" y2="438.5" stroke="#1a1a1a" stroke-width="0.6"/>
<line x1="330" y1="414.3" x2="330" y2="438.5" stroke="#1a1a1a" stroke-width="1.6"/>
<line x1="302.4" y1="438.8" x2="311.6" y2="438.8" stroke="#1a1a1a" stroke-width="1.4"/>
<line x1="324.7" y1="438.8" x2="335.2" y2="438.8" stroke="#1a1a1a" stroke-width="1.4"/>
<line x1="348.2" y1="438.8" x2="353.5" y2="438.8" stroke="#1a1a1a" stroke-width="1.4"/>
<polyline points="311.6,438.5 323.4,443.8 324.7,438.5" fill="none" stroke="#1a1a1a" stroke-width="0.8" stroke-linejoin="miter"/>
<polyline points="335.2,438.5 337.1,443.8 349.6,438.5" fill="none" stroke="#1a1a1a" stroke-width="0.8" stroke-linejoin="miter"/>
<rect x="205.6" y="462.7" width="72.3" height="4.8" fill="#eeb08e" stroke="#4a2a1c" stroke-width="0.6"/>
<polyline points="277.9,464.6 278.4,467 283.7,474.3 286,467.5 289.4,478.1 298.1,466.1" fill="none" stroke="#1a1a1a" stroke-width="0.8" stroke-linejoin="miter"/>
<rect x="198.9" y="467.5" width="4.8" height="42.9" fill="#eeb08e" stroke="#4a2a1c" stroke-width="0.6"/>
<rect x="226.3" y="467.5" width="44.4" height="45.8" fill="#fff" stroke="#1a1a1a" stroke-width="0.9"/>
<line x1="226.3" y1="486.3" x2="270.7" y2="486.3" stroke="#1a1a1a" stroke-width="0.9"/>
<line x1="226.3" y1="495.5" x2="270.7" y2="495.5" stroke="#1a1a1a" stroke-width="0.9"/>
<line x1="231.23333333333335" y1="467.5" x2="231.23333333333335" y2="486.3" stroke="#1a1a1a" stroke-width="0.8"/>
<line x1="231.23333333333335" y1="495.5" x2="231.23333333333335" y2="513.3" stroke="#1a1a1a" stroke-width="0.8"/>
<line x1="236.16666666666669" y1="467.5" x2="236.16666666666669" y2="486.3" stroke="#1a1a1a" stroke-width="0.8"/>
<line x1="236.16666666666669" y1="495.5" x2="236.16666666666669" y2="513.3" stroke="#1a1a1a" stroke-width="0.8"/>
<line x1="241.1" y1="467.5" x2="241.1" y2="486.3" stroke="#1a1a1a" stroke-width="0.8"/>
<line x1="241.1" y1="495.5" x2="241.1" y2="513.3" stroke="#1a1a1a" stroke-width="0.8"/>
<line x1="246.03333333333333" y1="467.5" x2="246.03333333333333" y2="486.3" stroke="#1a1a1a" stroke-width="0.8"/>
<line x1="246.03333333333333" y1="495.5" x2="246.03333333333333" y2="513.3" stroke="#1a1a1a" stroke-width="0.8"/>
<line x1="250.96666666666667" y1="467.5" x2="250.96666666666667" y2="486.3" stroke="#1a1a1a" stroke-width="0.8"/>
<line x1="250.96666666666667" y1="495.5" x2="250.96666666666667" y2="513.3" stroke="#1a1a1a" stroke-width="0.8"/>
<line x1="255.9" y1="467.5" x2="255.9" y2="486.3" stroke="#1a1a1a" stroke-width="0.8"/>
<line x1="255.9" y1="495.5" x2="255.9" y2="513.3" stroke="#1a1a1a" stroke-width="0.8"/>
<line x1="260.8333333333333" y1="467.5" x2="260.8333333333333" y2="486.3" stroke="#1a1a1a" stroke-width="0.8"/>
<line x1="260.8333333333333" y1="495.5" x2="260.8333333333333" y2="513.3" stroke="#1a1a1a" stroke-width="0.8"/>
<line x1="265.76666666666665" y1="467.5" x2="265.76666666666665" y2="486.3" stroke="#1a1a1a" stroke-width="0.8"/>
<line x1="265.76666666666665" y1="495.5" x2="265.76666666666665" y2="513.3" stroke="#1a1a1a" stroke-width="0.8"/>
<line x1="226.3" y1="476.9" x2="270.7" y2="476.9" stroke="#1a1a1a" stroke-width="0.8"/>
<line x1="226.3" y1="504.4" x2="270.7" y2="504.4" stroke="#1a1a1a" stroke-width="0.8"/>
<polygon points="231,476.7 226,474.9 226,478.5" fill="#1a1a1a"/>
<line x1="223" y1="476.7" x2="227" y2="476.7" stroke="#1a1a1a" stroke-width="0.8"/>
<polygon points="248,503.6 243,501.8 243,505.40000000000003" fill="#1a1a1a"/>
<line x1="240" y1="503.6" x2="244" y2="503.6" stroke="#1a1a1a" stroke-width="0.8"/>
<polyline points="245,494 255,513" fill="none" stroke="#1a1a1a" stroke-width="0.7" stroke-linejoin="miter"/>
<polyline points="247.5,494 257.5,513" fill="none" stroke="#1a1a1a" stroke-width="0.7" stroke-linejoin="miter"/>
<rect x="205.6" y="513.3" width="92.4" height="4.8" fill="#eeb08e" stroke="#4a2a1c" stroke-width="0.6"/>
<rect x="205.6" y="522.4" width="92.4" height="4.4" fill="#eeb08e" stroke="#4a2a1c" stroke-width="0.6"/>
<rect x="226.6" y="600.8" width="44.1" height="41.1" fill="#fff" stroke="#1a1a1a" stroke-width="0.9"/>
<line x1="226.6" y1="619.4" x2="270.7" y2="619.4" stroke="#1a1a1a" stroke-width="0.9"/>
<line x1="226.6" y1="623.3" x2="270.7" y2="623.3" stroke="#1a1a1a" stroke-width="0.9"/>
<line x1="231.5" y1="600.8" x2="231.5" y2="619.4" stroke="#1a1a1a" stroke-width="0.8"/>
<line x1="231.5" y1="623.3" x2="231.5" y2="641.9" stroke="#1a1a1a" stroke-width="0.8"/>
<line x1="236.4" y1="600.8" x2="236.4" y2="619.4" stroke="#1a1a1a" stroke-width="0.8"/>
<line x1="236.4" y1="623.3" x2="236.4" y2="641.9" stroke="#1a1a1a" stroke-width="0.8"/>
<line x1="241.29999999999998" y1="600.8" x2="241.29999999999998" y2="619.4" stroke="#1a1a1a" stroke-width="0.8"/>
<line x1="241.29999999999998" y1="623.3" x2="241.29999999999998" y2="641.9" stroke="#1a1a1a" stroke-width="0.8"/>
<line x1="246.2" y1="600.8" x2="246.2" y2="619.4" stroke="#1a1a1a" stroke-width="0.8"/>
<line x1="246.2" y1="623.3" x2="246.2" y2="641.9" stroke="#1a1a1a" stroke-width="0.8"/>
<line x1="251.1" y1="600.8" x2="251.1" y2="619.4" stroke="#1a1a1a" stroke-width="0.8"/>
<line x1="251.1" y1="623.3" x2="251.1" y2="641.9" stroke="#1a1a1a" stroke-width="0.8"/>
<line x1="256.0" y1="600.8" x2="256.0" y2="619.4" stroke="#1a1a1a" stroke-width="0.8"/>
<line x1="256.0" y1="623.3" x2="256.0" y2="641.9" stroke="#1a1a1a" stroke-width="0.8"/>
<line x1="260.9" y1="600.8" x2="260.9" y2="619.4" stroke="#1a1a1a" stroke-width="0.8"/>
<line x1="260.9" y1="623.3" x2="260.9" y2="641.9" stroke="#1a1a1a" stroke-width="0.8"/>
<line x1="265.8" y1="600.8" x2="265.8" y2="619.4" stroke="#1a1a1a" stroke-width="0.8"/>
<line x1="265.8" y1="623.3" x2="265.8" y2="641.9" stroke="#1a1a1a" stroke-width="0.8"/>
<line x1="226.6" y1="610.0999999999999" x2="270.7" y2="610.0999999999999" stroke="#1a1a1a" stroke-width="0.8"/>
<line x1="226.6" y1="632.5999999999999" x2="270.7" y2="632.5999999999999" stroke="#1a1a1a" stroke-width="0.8"/>
<polygon points="247,610 242,608.2 242,611.8" fill="#1a1a1a"/>
<line x1="239" y1="610" x2="243" y2="610" stroke="#1a1a1a" stroke-width="0.8"/>
<polygon points="233,632.6 228,630.8000000000001 228,634.4" fill="#1a1a1a"/>
<line x1="225" y1="632.6" x2="229" y2="632.6" stroke="#1a1a1a" stroke-width="0.8"/>
<polyline points="248,601 256,619" fill="none" stroke="#1a1a1a" stroke-width="0.7" stroke-linejoin="miter"/>
<polyline points="250.5,601 258.5,619" fill="none" stroke="#1a1a1a" stroke-width="0.7" stroke-linejoin="miter"/>
<rect x="196.4" y="598.5" width="8.5" height="46.5" fill="#eeb08e" stroke="#4a2a1c" stroke-width="0.6"/>
<rect x="199.5" y="642.6" width="62.7" height="2.8" fill="#1e8440" stroke="#062a12" stroke-width="0.8"/>
<rect x="212.6" y="642.6" width="49.6" height="3.3" fill="#1e8440" stroke="#062a12" stroke-width="0.8"/>
<rect x="212.6" y="677.3000000000001" width="49.6" height="3.3" fill="#1e8440" stroke="#062a12" stroke-width="0.8"/>
<rect x="258.9" y="642.6" width="3.3" height="38.0" fill="#1e8440" stroke="#062a12" stroke-width="0.8"/>
<rect x="212.6" y="642.6" width="4.62" height="7.92" fill="#1e8440" stroke="#062a12" stroke-width="0.8"/>
<rect x="212.6" y="672.6800000000001" width="4.62" height="7.92" fill="#1e8440" stroke="#062a12" stroke-width="0.8"/>
<line x1="216.9" y1="646.9" x2="257.9" y2="676.3000000000001" stroke="#1a1a1a" stroke-width="0.8"/>
<line x1="257.9" y1="646.9" x2="216.9" y2="676.3000000000001" stroke="#1a1a1a" stroke-width="0.8"/>
<rect x="262.2" y="642.6" width="13.9" height="11.6" fill="#eeb08e" stroke="#4a2a1c" stroke-width="0.6"/>
<rect x="263.7" y="648" width="10.1" height="4" fill="#fff" stroke="#1a1a1a" stroke-width="0.7"/>
<polyline points="276.1,642.6 283.8,634.9 285.4,641.1 288.5,632.6 298.5,643.4" fill="none" stroke="#1a1a1a" stroke-width="0.8" stroke-linejoin="miter"/>
<polyline points="215.7,680.6 223.5,687.5 218,691.4 227.3,695.3 216.5,705.3" fill="none" stroke="#1a1a1a" stroke-width="0.8" stroke-linejoin="miter"/>
<polyline points="261.4,680.6 268.4,688.3 262.2,692.2 272.2,696 260.6,705.3" fill="none" stroke="#1a1a1a" stroke-width="0.8" stroke-linejoin="miter"/>
<rect x="205.7" y="706.1" width="93.6" height="6.2" fill="#eeb08e" stroke="#4a2a1c" stroke-width="0.6"/>
<polyline points="176.2,708.4 189.5,699.3 193.3,709.5" fill="none" stroke="#1a1a1a" stroke-width="0.8" stroke-linejoin="miter"/>
<rect x="171.4" y="700.3" width="4.8" height="8.1" fill="#fff" stroke="#1a1a1a" stroke-width="1.0"/>
<polygon points="368.2,235.3 747.6,235.3 747.6,470.4 368.2,470.4" fill="#ffffff" stroke="#1a1a1a" stroke-width="0.9" stroke-linejoin="miter"/>
<polygon points="370.7,237.8 745.1,237.8 745.1,467.9 370.7,467.9" fill="#fbf5d9" stroke="#1a1a1a" stroke-width="0.7" stroke-linejoin="miter"/>
<rect x="374" y="241.2" width="363.1" height="223.3" fill="#fff"/>
<rect x="498.2" y="234" width="117.2" height="11" fill="#fff"/>
<rect x="737.3" y="236" width="11.7" height="233.8" fill="#fff"/>
<rect x="737.3" y="238.6" width="10.3" height="2.9" fill="#fbf5d9"/>
<rect x="737.3" y="464.3" width="10.3" height="3.3" fill="#fbf5d9"/>
<line x1="737.3" y1="235.3" x2="747.6" y2="235.3" stroke="#1a1a1a" stroke-width="0.9"/>
<line x1="737.3" y1="238.6" x2="747.6" y2="238.6" stroke="#1a1a1a" stroke-width="0.7"/>
<line x1="737.3" y1="467.6" x2="747.6" y2="467.6" stroke="#1a1a1a" stroke-width="0.7"/>
<line x1="737.3" y1="470.4" x2="747.6" y2="470.4" stroke="#1a1a1a" stroke-width="0.9"/>
<line x1="747.6" y1="235.3" x2="747.6" y2="244.8" stroke="#1a1a1a" stroke-width="0.9"/>
<line x1="747.6" y1="461" x2="747.6" y2="470.4" stroke="#1a1a1a" stroke-width="0.9"/>
<rect x="378" y="244.9" width="120" height="83.6" fill="#cecbe7"/>
<rect x="378" y="328.5" width="58" height="132.3" fill="#cecbe7"/>
<rect x="436" y="328.5" width="29" height="30.0" fill="#cecbe7"/>
<rect x="439.7" y="362.5" width="110.9" height="98.3" fill="#d0e0f2"/>
<rect x="555.4" y="362.5" width="56.6" height="98.3" fill="#f0cfdc"/>
<rect x="612" y="362.5" width="52" height="98.3" fill="#f0cfdc"/>
<rect x="615.7" y="244.9" width="110.5" height="79.1" fill="#d6ebd6"/>
<rect x="638.8" y="324" width="87.4" height="34.5" fill="#d6ebd6"/>
<rect x="668" y="358.5" width="58.2" height="102.3" fill="#d6ebd6"/>
<polygon points="465.4,335.7 498,335.7 498,332 615.7,332 615.7,337.5 633.7,337.5 633.7,358.3 465.4,358.3" fill="#fff"/>
<rect x="374.0" y="244.6" width="3.8" height="216.4" fill="#1e8440" stroke="#062a12" stroke-width="0.6"/>
<rect x="374" y="241.10000000000002" width="124" height="3.8" fill="#1e8440" stroke="#062a12" stroke-width="0.6"/>
<rect x="615.7" y="241.10000000000002" width="115.7" height="3.8" fill="#1e8440" stroke="#062a12" stroke-width="0.6"/>
<rect x="733" y="241.10000000000002" width="14.6" height="3.8" fill="#1e8440" stroke="#062a12" stroke-width="0.6"/>
<rect x="395.2" y="235.3" width="22.8" height="9.6" fill="#fff" stroke="#1a1a1a" stroke-width="0.7"/>
<rect x="395.2" y="238.9" width="22.8" height="1.6" fill="#1a1a1a"/>
<rect x="453.3" y="235.3" width="15.3" height="9.6" fill="#fff" stroke="#1a1a1a" stroke-width="0.7"/>
<rect x="453.3" y="238.9" width="15.3" height="1.6" fill="#1a1a1a"/>
<rect x="685.7" y="235.3" width="22.9" height="9.6" fill="#fff" stroke="#1a1a1a" stroke-width="0.7"/>
<rect x="685.7" y="238.9" width="22.9" height="1.6" fill="#1a1a1a"/>
<rect x="637" y="235.3" width="7.8" height="9.6" fill="#fff" stroke="#1a1a1a" stroke-width="0.7"/>
<rect x="468.6" y="235.8" width="16.2" height="9.4" fill="#cecbe7"/>
<line x1="468.6" y1="235.8" x2="468.6" y2="245" stroke="#1a1a1a" stroke-width="0.8"/>
<line x1="484.8" y1="235.8" x2="484.8" y2="245" stroke="#1a1a1a" stroke-width="0.8"/>
<rect x="644.8" y="235.8" width="16.2" height="9.4" fill="#d6ebd6"/>
<line x1="644.8" y1="235.8" x2="644.8" y2="245" stroke="#1a1a1a" stroke-width="0.8"/>
<line x1="661" y1="235.8" x2="661" y2="245" stroke="#1a1a1a" stroke-width="0.8"/>
<polyline points="468.6,244.6 483,251 484.8,244.6" fill="none" stroke="#1a1a1a" stroke-width="0.8" stroke-linejoin="miter"/>
<polyline points="644.8,244.6 646,254 661,244.6" fill="none" stroke="#1a1a1a" stroke-width="0.8" stroke-linejoin="miter"/>
<rect x="374" y="460.79999999999995" width="363.1" height="3.8" fill="#1e8440" stroke="#062a12" stroke-width="0.6"/>
<rect x="737.1" y="460.79999999999995" width="10.5" height="3.8" fill="#1e8440" stroke="#062a12" stroke-width="0.6"/>
<rect x="395.2" y="460.79999999999995" width="22.8" height="9.6" fill="#fff" stroke="#1a1a1a" stroke-width="0.7"/>
<rect x="395.2" y="465.2" width="22.8" height="1.6" fill="#1a1a1a"/>
<rect x="458" y="460.79999999999995" width="22" height="9.6" fill="#fff" stroke="#1a1a1a" stroke-width="0.7"/>
<rect x="458" y="465.2" width="22" height="1.6" fill="#1a1a1a"/>
<rect x="511.3" y="460.79999999999995" width="15.2" height="9.6" fill="#fff" stroke="#1a1a1a" stroke-width="0.7"/>
<rect x="511.3" y="465.2" width="15.2" height="1.6" fill="#1a1a1a"/>
<rect x="570.7" y="460.79999999999995" width="25.7" height="9.6" fill="#fff" stroke="#1a1a1a" stroke-width="0.7"/>
<rect x="570.7" y="465.2" width="25.7" height="1.6" fill="#1a1a1a"/>
<rect x="628.5" y="460.79999999999995" width="15.2" height="9.6" fill="#fff" stroke="#1a1a1a" stroke-width="0.7"/>
<rect x="628.5" y="465.2" width="15.2" height="1.6" fill="#1a1a1a"/>
<rect x="685.4" y="460.79999999999995" width="23.0" height="9.6" fill="#fff" stroke="#1a1a1a" stroke-width="0.7"/>
<rect x="685.4" y="465.2" width="23.0" height="1.6" fill="#1a1a1a"/>
<rect x="526.5" y="460.5" width="7.3" height="9.5" fill="#d0e0f2"/>
<line x1="526.5" y1="460.5" x2="526.5" y2="470" stroke="#1a1a1a" stroke-width="0.8"/>
<line x1="533.8" y1="460.5" x2="533.8" y2="470" stroke="#1a1a1a" stroke-width="0.8"/>
<rect x="643.5" y="460.5" width="14.9" height="9.5" fill="#f0cfdc"/>
<line x1="643.5" y1="460.5" x2="643.5" y2="470" stroke="#1a1a1a" stroke-width="0.8"/>
<line x1="658.4" y1="460.5" x2="658.4" y2="470" stroke="#1a1a1a" stroke-width="0.8"/>
<polyline points="643.3,461 645,456 658.4,461" fill="none" stroke="#1a1a1a" stroke-width="0.8" stroke-linejoin="miter"/>
<rect x="726.2" y="244.6" width="3.6" height="216.4" fill="#1e8440" stroke="#062a12" stroke-width="0.8"/>
<rect x="733.1" y="241.2" width="4.0" height="222.8" fill="#1e8440" stroke="#062a12" stroke-width="0.8"/>
<rect x="729.8" y="244.6" width="3.3" height="216.4" fill="#fbf5d9"/>
<rect x="435.9" y="244.6" width="3.8" height="83.1" fill="#1e8440" stroke="#062a12" stroke-width="0.8"/>
<rect x="435.9" y="350.2" width="3.8" height="110.8" fill="#1e8440" stroke="#062a12" stroke-width="0.8"/>
<rect x="498" y="222.9" width="4" height="109.1" fill="#1e8440" stroke="#062a12" stroke-width="0.8"/>
<rect x="611.8" y="222.9" width="3.9" height="110.1" fill="#1e8440" stroke="#062a12" stroke-width="0.8"/>
<rect x="664" y="244.6" width="4" height="80.0" fill="#1e8440" stroke="#062a12" stroke-width="0.8"/>
<rect x="664" y="349.9" width="4" height="111.1" fill="#1e8440" stroke="#062a12" stroke-width="0.8"/>
<rect x="378" y="358.2" width="30" height="4.3" fill="#1e8440" stroke="#062a12" stroke-width="0.8"/>
<rect x="427.3" y="358.2" width="52.3" height="3.9" fill="#1e8440" stroke="#062a12" stroke-width="0.8"/>
<rect x="494.3" y="358.8" width="86.8" height="3.7" fill="#1e8440" stroke="#062a12" stroke-width="0.8"/>
<rect x="596.1" y="358.8" width="80.9" height="4.0" fill="#1e8440" stroke="#062a12" stroke-width="0.8"/>
<rect x="695.5" y="358.3" width="30.7" height="4.5" fill="#1e8440" stroke="#062a12" stroke-width="0.8"/>
<rect x="498" y="350.5" width="3.8" height="21.6" fill="#1e8440" stroke="#062a12" stroke-width="0.8"/>
<rect x="498" y="391.4" width="3.8" height="69.6" fill="#1e8440" stroke="#062a12" stroke-width="0.8"/>
<rect x="612.2" y="362.5" width="3.8" height="12.9" fill="#1e8440" stroke="#062a12" stroke-width="0.8"/>
<rect x="612.2" y="394.7" width="3.8" height="66.3" fill="#1e8440" stroke="#062a12" stroke-width="0.8"/>
<rect x="611.8" y="310" width="3.9" height="23" fill="#1e8440" stroke="#062a12" stroke-width="0.8"/>
<rect x="378" y="322.3" width="30.6" height="3.2" fill="#eeb08e" stroke="#4a2a1c" stroke-width="0.6"/>
<rect x="405.4" y="322.3" width="3.2" height="14.5" fill="#eeb08e" stroke="#4a2a1c" stroke-width="0.6"/>
<rect x="405.4" y="352.3" width="2.6" height="11.8" fill="#eeb08e" stroke="#4a2a1c" stroke-width="0.6"/>
<rect x="378" y="380.2" width="30" height="3.2" fill="#eeb08e" stroke="#4a2a1c" stroke-width="0.6"/>
<rect x="474.3" y="317.1" width="23.6" height="3.3" fill="#eeb08e" stroke="#4a2a1c" stroke-width="0.6"/>
<rect x="474.3" y="317.1" width="5.3" height="16.5" fill="#eeb08e" stroke="#4a2a1c" stroke-width="0.6"/>
<rect x="460" y="328.6" width="19.6" height="5.0" fill="#eeb08e" stroke="#4a2a1c" stroke-width="0.6"/>
<rect x="460" y="328.6" width="5" height="6.8" fill="#eeb08e" stroke="#4a2a1c" stroke-width="0.6"/>
<rect x="460.4" y="351" width="5.0" height="7.2" fill="#eeb08e" stroke="#4a2a1c" stroke-width="0.6"/>
<rect x="501.8" y="329.3" width="3.2" height="3.9" fill="#eeb08e" stroke="#4a2a1c" stroke-width="0.6"/>
<rect x="550.6" y="362.5" width="4.8" height="98.5" fill="#eeb08e" stroke="#4a2a1c" stroke-width="0.6"/>
<rect x="520" y="362.5" width="2.2" height="13.9" fill="#eeb08e" stroke="#4a2a1c" stroke-width="0.6"/>
<rect x="520" y="390.4" width="2.2" height="10.2" fill="#eeb08e" stroke="#4a2a1c" stroke-width="0.6"/>
<rect x="520" y="397.9" width="30.6" height="2.7" fill="#eeb08e" stroke="#4a2a1c" stroke-width="0.6"/>
<rect x="555.4" y="409.7" width="16.1" height="4.8" fill="#eeb08e" stroke="#4a2a1c" stroke-width="0.6"/>
<rect x="596.6" y="409.7" width="15.6" height="4.8" fill="#eeb08e" stroke="#4a2a1c" stroke-width="0.6"/>
<rect x="615.7" y="317.3" width="23.1" height="3.2" fill="#eeb08e" stroke="#4a2a1c" stroke-width="0.6"/>
<rect x="635.6" y="317.3" width="3.2" height="20.2" fill="#eeb08e" stroke="#4a2a1c" stroke-width="0.6"/>
<rect x="633.7" y="354.4" width="5.1" height="3.9" fill="#eeb08e" stroke="#4a2a1c" stroke-width="0.6"/>
<rect x="633.7" y="362.8" width="2.8" height="14.6" fill="#eeb08e" stroke="#4a2a1c" stroke-width="0.6"/>
<rect x="633.7" y="389.8" width="2.8" height="10.9" fill="#eeb08e" stroke="#4a2a1c" stroke-width="0.6"/>
<rect x="695.5" y="322.4" width="3.2" height="15.1" fill="#eeb08e" stroke="#4a2a1c" stroke-width="0.6"/>
<rect x="695.5" y="322.4" width="30.3" height="3.0" fill="#eeb08e" stroke="#4a2a1c" stroke-width="0.6"/>
<rect x="695.5" y="351.6" width="3.4" height="6.7" fill="#eeb08e" stroke="#4a2a1c" stroke-width="0.6"/>
<rect x="695.5" y="379.7" width="30.7" height="2.2" fill="#eeb08e" stroke="#4a2a1c" stroke-width="0.6"/>
<rect x="695.5" y="362.8" width="3.0" height="5.2" fill="#eeb08e" stroke="#4a2a1c" stroke-width="0.6"/>
<rect x="633.1" y="398" width="3.4" height="15.1" fill="#eeb08e" stroke="#4a2a1c" stroke-width="0.6"/>
<rect x="633.1" y="400.7" width="30.9" height="2.8" fill="#eeb08e" stroke="#4a2a1c" stroke-width="0.6"/>
<rect x="633.1" y="410" width="30.9" height="3.1" fill="#eeb08e" stroke="#4a2a1c" stroke-width="0.6"/>
<rect x="378" y="380.2" width="30" height="3.2" fill="#eeb08e" stroke="#4a2a1c" stroke-width="0.6"/>
<line x1="378" y1="328.40000000000003" x2="408.6" y2="328.40000000000003" stroke="#1a1a1a" stroke-width="0.6"/>
<line x1="378" y1="330.2" x2="408.6" y2="330.2" stroke="#1a1a1a" stroke-width="0.6"/>
<line x1="409" y1="328.40000000000003" x2="418.2" y2="328.40000000000003" stroke="#1a1a1a" stroke-width="0.6"/>
<line x1="409" y1="330.2" x2="418.2" y2="330.2" stroke="#1a1a1a" stroke-width="0.6"/>
<line x1="431.6" y1="328.40000000000003" x2="444" y2="328.40000000000003" stroke="#1a1a1a" stroke-width="0.6"/>
<line x1="431.6" y1="330.2" x2="444" y2="330.2" stroke="#1a1a1a" stroke-width="0.6"/>
<line x1="456.8" y1="328.40000000000003" x2="460.6" y2="328.40000000000003" stroke="#1a1a1a" stroke-width="0.6"/>
<line x1="456.8" y1="330.2" x2="460.6" y2="330.2" stroke="#1a1a1a" stroke-width="0.6"/>
<line x1="408.6" y1="382.6" x2="414" y2="382.6" stroke="#1a1a1a" stroke-width="0.6"/>
<line x1="408.6" y1="384.4" x2="414" y2="384.4" stroke="#1a1a1a" stroke-width="0.6"/>
<line x1="426.8" y1="382.6" x2="435.9" y2="382.6" stroke="#1a1a1a" stroke-width="0.6"/>
<line x1="426.8" y1="384.4" x2="435.9" y2="384.4" stroke="#1a1a1a" stroke-width="0.6"/>
<line x1="439.7" y1="391.70000000000005" x2="480.4" y2="391.70000000000005" stroke="#1a1a1a" stroke-width="0.6"/>
<line x1="439.7" y1="393.5" x2="480.4" y2="393.5" stroke="#1a1a1a" stroke-width="0.6"/>
<line x1="490" y1="391.3" x2="498" y2="391.3" stroke="#1a1a1a" stroke-width="0.6"/>
<line x1="490" y1="393.09999999999997" x2="498" y2="393.09999999999997" stroke="#1a1a1a" stroke-width="0.6"/>
<line x1="555.4" y1="394.3" x2="591.8" y2="394.3" stroke="#1a1a1a" stroke-width="0.6"/>
<line x1="555.4" y1="396.09999999999997" x2="591.8" y2="396.09999999999997" stroke="#1a1a1a" stroke-width="0.6"/>
<line x1="606.8" y1="394.3" x2="612.2" y2="394.3" stroke="#1a1a1a" stroke-width="0.6"/>
<line x1="606.8" y1="396.09999999999997" x2="612.2" y2="396.09999999999997" stroke="#1a1a1a" stroke-width="0.6"/>
<line x1="604.5" y1="394.3" x2="611.8" y2="394.3" stroke="#1a1a1a" stroke-width="0.6"/>
<line x1="604.5" y1="396.09999999999997" x2="611.8" y2="396.09999999999997" stroke="#1a1a1a" stroke-width="0.6"/>
<line x1="638.8" y1="322.6" x2="649.4" y2="322.6" stroke="#1a1a1a" stroke-width="0.6"/>
<line x1="638.8" y1="324.4" x2="649.4" y2="324.4" stroke="#1a1a1a" stroke-width="0.6"/>
<line x1="683.1" y1="322.6" x2="695.5" y2="322.6" stroke="#1a1a1a" stroke-width="0.6"/>
<line x1="683.1" y1="324.4" x2="695.5" y2="324.4" stroke="#1a1a1a" stroke-width="0.6"/>
<line x1="668" y1="381.3" x2="677" y2="381.3" stroke="#1a1a1a" stroke-width="0.6"/>
<line x1="668" y1="383.09999999999997" x2="677" y2="383.09999999999997" stroke="#1a1a1a" stroke-width="0.6"/>
<polyline points="418.2,329.8 419.3,323.9 431.6,328.2" fill="none" stroke="#1a1a1a" stroke-width="0.8" stroke-linejoin="miter"/>
<polyline points="444,328.2 455.7,323.9 456.8,329.3" fill="none" stroke="#1a1a1a" stroke-width="0.8" stroke-linejoin="miter"/>
<polyline points="406.4,351.8 412.9,338.9 407.5,337.9" fill="none" stroke="#1a1a1a" stroke-width="0.8" stroke-linejoin="miter"/>
<polyline points="406.4,364.5 412.9,375 407.5,380" fill="none" stroke="#1a1a1a" stroke-width="0.8" stroke-linejoin="miter"/>
<polyline points="414,384 415,387.2 426.8,382.9" fill="none" stroke="#1a1a1a" stroke-width="0.8" stroke-linejoin="miter"/>
<polyline points="481.4,331.4 494.3,338.2 495,330.7" fill="none" stroke="#1a1a1a" stroke-width="0.8" stroke-linejoin="miter"/>
<polyline points="465,335 475,347.9 465,350.7" fill="none" stroke="#1a1a1a" stroke-width="0.8" stroke-linejoin="miter"/>
<polyline points="479.6,358.2 491,349.6 494,361.4" fill="none" stroke="#1a1a1a" stroke-width="0.8" stroke-linejoin="miter"/>
<polyline points="480.4,392.6 482,396 498,399" fill="none" stroke="#1a1a1a" stroke-width="0.8" stroke-linejoin="miter"/>
<polyline points="501.8,400 516.3,405.4 517.9,400" fill="none" stroke="#1a1a1a" stroke-width="0.8" stroke-linejoin="miter"/>
<polyline points="520,376.4 514.7,389.3 520,390.4" fill="none" stroke="#1a1a1a" stroke-width="0.8" stroke-linejoin="miter"/>
<polyline points="591.8,395.7 592.9,401.1 606.8,395.7" fill="none" stroke="#1a1a1a" stroke-width="0.8" stroke-linejoin="miter"/>
<polyline points="616.9,395.7 630.3,400.2 631.5,395.1" fill="none" stroke="#1a1a1a" stroke-width="0.8" stroke-linejoin="miter"/>
<polyline points="581.1,360 583,352 596.1,360" fill="none" stroke="#1a1a1a" stroke-width="0.8" stroke-linejoin="miter"/>
<polyline points="649.4,324 650.6,319 663,322.9" fill="none" stroke="#1a1a1a" stroke-width="0.8" stroke-linejoin="miter"/>
<polyline points="668,322.9 682,319 683.1,324" fill="none" stroke="#1a1a1a" stroke-width="0.8" stroke-linejoin="miter"/>
<polyline points="696.6,338.7 691,350.4 696.6,351.6" fill="none" stroke="#1a1a1a" stroke-width="0.8" stroke-linejoin="miter"/>
<polyline points="696.6,364 692,366 696.6,378" fill="none" stroke="#1a1a1a" stroke-width="0.8" stroke-linejoin="miter"/>
<polyline points="677,381.9 689.9,387.5 691,381.9" fill="none" stroke="#1a1a1a" stroke-width="0.8" stroke-linejoin="miter"/>
<polyline points="633.7,377.4 629.8,388.7 636,389.8" fill="none" stroke="#1a1a1a" stroke-width="0.8" stroke-linejoin="miter"/>
<polyline points="624.2,341.2 633.4,352.7 635,354" fill="none" stroke="#1a1a1a" stroke-width="0.8" stroke-linejoin="miter"/>
<polyline points="618.9,337.4 631.8,332.9 633.4,337.4" fill="none" stroke="#1a1a1a" stroke-width="0.8" stroke-linejoin="miter"/>
<rect x="378.6" y="315.4" width="24.6" height="6.4" fill="none" stroke="#1a1a1a" stroke-width="1.3"/>
<rect x="378.6" y="325.5" width="26.8" height="10.8" fill="#fff" stroke="#1a1a1a" stroke-width="0.8"/>
<rect x="379.8" y="326.7" width="24.4" height="8.4" rx="4.2000000000000055" fill="#fff" stroke="#555" stroke-width="0.5"/>
<rect x="378" y="340.5" width="6.5" height="12.4" fill="#fff" stroke="#1a1a1a" stroke-width="1.3"/>
<ellipse cx="383.5" cy="372.7" rx="4.3" ry="2.7" fill="#fff" stroke="#1a1a1a" stroke-width="0.6" transform="rotate(0 383.5 372.7)"/>
<rect x="522.2" y="363" width="27.3" height="10.8" fill="#fff" stroke="#1a1a1a" stroke-width="0.8"/>
<rect x="523.4000000000001" y="364.2" width="24.9" height="8.4" rx="4.2000000000000055" fill="#fff" stroke="#555" stroke-width="0.5"/>
<rect x="543" y="374.8" width="6.5" height="9.1" fill="#fff" stroke="#1a1a1a" stroke-width="1.2"/>
<ellipse cx="545" cy="391.5" rx="4" ry="3" fill="#fff" stroke="#1a1a1a" stroke-width="0.6" transform="rotate(0 545 391.5)"/>
<rect x="527.5" y="401.6" width="22.0" height="7.0" fill="#fff" stroke="#1a1a1a" stroke-width="0.8"/>
<line x1="529.5" y1="403.6" x2="549.5" y2="403.6" stroke="#1a1a1a" stroke-width="0.6"/>
<rect x="541.4" y="414.5" width="8.1" height="11.2" fill="#fff" stroke="#1a1a1a" stroke-width="1.3"/>
<rect x="698.7" y="325.4" width="27.1" height="10.9" fill="#fff" stroke="#1a1a1a" stroke-width="0.8"/>
<rect x="699.9000000000001" y="326.59999999999997" width="24.7" height="8.5" rx="4.250000000000017" fill="#fff" stroke="#555" stroke-width="0.5"/>
<rect x="718.5" y="340.3" width="6.8" height="11.8" fill="#fff" stroke="#1a1a1a" stroke-width="1.2"/>
<ellipse cx="720.7" cy="371.8" rx="4.3" ry="3.2" fill="#fff" stroke="#1a1a1a" stroke-width="0.6" transform="rotate(0 720.7 371.8)"/>
<ellipse cx="658.5" cy="368.7" rx="4" ry="3" fill="#fff" stroke="#1a1a1a" stroke-width="0.6" transform="rotate(0 658.5 368.7)"/>
<rect x="652.2" y="377.4" width="11.8" height="22.6" fill="#fff" stroke="#1a1a1a" stroke-width="0.8"/>
<rect x="653.4000000000001" y="378.59999999999997" width="9.4" height="20.2" rx="4.699999999999977" fill="#fff" stroke="#555" stroke-width="0.5"/>
<rect x="636.5" y="394.6" width="14.1" height="6.7" fill="#fff" stroke="#1a1a1a" stroke-width="1.3"/>
<rect x="615" y="329" width="3.9" height="3.9" fill="#eeb08e" stroke="#4a2a1c" stroke-width="0.6"/>
<line x1="498.5" y1="194.8" x2="615.2" y2="194.8" stroke="#1a1a1a" stroke-width="1.0"/>
<rect x="492" y="214.4" width="129.5" height="8.3" fill="#fbf5d9"/>
<rect x="492" y="214.4" width="6" height="27.1" fill="#fbf5d9"/>
<rect x="615.6" y="214.4" width="5.9" height="27.1" fill="#fbf5d9"/>
<polyline points="492,235.3 492,214.6 621.5,214.6 621.5,235.3" fill="none" stroke="#1a1a1a" stroke-width="0.9" stroke-linejoin="miter"/>
<polyline points="494.8,238.5 494.8,217.5 618.7,217.5 618.7,238.5" fill="none" stroke="#1a1a1a" stroke-width="0.7" stroke-linejoin="miter"/>
<rect x="518" y="214" width="19.7" height="8.7" fill="#fff"/>
<rect x="584.3" y="214" width="20.5" height="8.7" fill="#fff"/>
<rect x="498" y="194.8" width="4.5" height="26.6" fill="#eeb08e" stroke="#4a2a1c" stroke-width="0.6"/>
<rect x="611.2" y="194.8" width="4.4" height="26.6" fill="#eeb08e" stroke="#4a2a1c" stroke-width="0.6"/>
<polyline points="518,215 524,207 527,213 532,205.5 537,215" fill="none" stroke="#1a1a1a" stroke-width="0.8" stroke-linejoin="miter"/>
<polyline points="584,215 589,208 592,213 596,205 604,216" fill="none" stroke="#1a1a1a" stroke-width="0.8" stroke-linejoin="miter"/>
<rect x="502" y="222.9" width="15" height="3.3" fill="#1e8440" stroke="#062a12" stroke-width="0.8"/>
<rect x="540" y="222.9" width="42.9" height="3.3" fill="#1e8440" stroke="#062a12" stroke-width="0.8"/>
<rect x="503.8" y="255.8" width="44.1" height="44.2" fill="#fff"/>
<line x1="503.8" y1="255.8" x2="523.3" y2="255.8" stroke="#1a1a1a" stroke-width="0.9"/>
<line x1="527.5" y1="255.8" x2="547.9" y2="255.8" stroke="#1a1a1a" stroke-width="0.9"/>
<line x1="503.8" y1="260.7111111111111" x2="523.3" y2="260.7111111111111" stroke="#1a1a1a" stroke-width="0.9"/>
<line x1="527.5" y1="260.7111111111111" x2="547.9" y2="260.7111111111111" stroke="#1a1a1a" stroke-width="0.9"/>
<line x1="503.8" y1="265.6222222222222" x2="523.3" y2="265.6222222222222" stroke="#1a1a1a" stroke-width="0.9"/>
<line x1="527.5" y1="265.6222222222222" x2="547.9" y2="265.6222222222222" stroke="#1a1a1a" stroke-width="0.9"/>
<line x1="503.8" y1="270.53333333333336" x2="523.3" y2="270.53333333333336" stroke="#1a1a1a" stroke-width="0.9"/>
<line x1="527.5" y1="270.53333333333336" x2="547.9" y2="270.53333333333336" stroke="#1a1a1a" stroke-width="0.9"/>
<line x1="503.8" y1="275.44444444444446" x2="523.3" y2="275.44444444444446" stroke="#1a1a1a" stroke-width="0.9"/>
<line x1="527.5" y1="275.44444444444446" x2="547.9" y2="275.44444444444446" stroke="#1a1a1a" stroke-width="0.9"/>
<line x1="503.8" y1="280.35555555555555" x2="523.3" y2="280.35555555555555" stroke="#1a1a1a" stroke-width="0.9"/>
<line x1="527.5" y1="280.35555555555555" x2="547.9" y2="280.35555555555555" stroke="#1a1a1a" stroke-width="0.9"/>
<line x1="503.8" y1="285.26666666666665" x2="523.3" y2="285.26666666666665" stroke="#1a1a1a" stroke-width="0.9"/>
<line x1="527.5" y1="285.26666666666665" x2="547.9" y2="285.26666666666665" stroke="#1a1a1a" stroke-width="0.9"/>
<line x1="503.8" y1="290.1777777777778" x2="523.3" y2="290.1777777777778" stroke="#1a1a1a" stroke-width="0.9"/>
<line x1="527.5" y1="290.1777777777778" x2="547.9" y2="290.1777777777778" stroke="#1a1a1a" stroke-width="0.9"/>
<line x1="503.8" y1="295.0888888888889" x2="523.3" y2="295.0888888888889" stroke="#1a1a1a" stroke-width="0.9"/>
<line x1="527.5" y1="295.0888888888889" x2="547.9" y2="295.0888888888889" stroke="#1a1a1a" stroke-width="0.9"/>
<line x1="503.8" y1="300.0" x2="523.3" y2="300.0" stroke="#1a1a1a" stroke-width="0.9"/>
<line x1="527.5" y1="300.0" x2="547.9" y2="300.0" stroke="#1a1a1a" stroke-width="0.9"/>
<line x1="503.8" y1="255.8" x2="503.8" y2="300" stroke="#1a1a1a" stroke-width="0.9"/>
<rect x="523.3" y="255" width="4.2" height="45" fill="#fff" stroke="#1a1a1a" stroke-width="0.9"/>
<line x1="514.6" y1="255.8" x2="514.6" y2="296" stroke="#1a1a1a" stroke-width="0.9"/>
<line x1="537.5" y1="281" x2="537.5" y2="300" stroke="#1a1a1a" stroke-width="0.9"/>
<polygon points="514.6,300.5 512.6,294 516.6,294" fill="#1a1a1a"/>
<polygon points="537.5,277.5 535.5,284 539.5,284" fill="#1a1a1a"/>
<rect x="548.6" y="241.4" width="3.8" height="90.6" fill="#1e8440" stroke="#062a12" stroke-width="0.8"/>
<rect x="548.6" y="241.4" width="34.3" height="3.6" fill="#1e8440" stroke="#062a12" stroke-width="0.8"/>
<rect x="548.6" y="267" width="34.3" height="4" fill="#1e8440" stroke="#062a12" stroke-width="0.8"/>
<rect x="548.6" y="313" width="34.3" height="3.7" fill="#1e8440" stroke="#062a12" stroke-width="0.8"/>
<rect x="579.2" y="241.4" width="3.7" height="20.6" fill="#1e8440" stroke="#062a12" stroke-width="0.8"/>
<rect x="579.2" y="283" width="3.7" height="20" fill="#1e8440" stroke="#062a12" stroke-width="0.8"/>
<rect x="552.4" y="329.8" width="29.1" height="3.1" fill="#eeb08e" stroke="#4a2a1c" stroke-width="0.6"/>
<rect x="578.5" y="303" width="3.5" height="29.9" fill="#1e8440" stroke="#062a12" stroke-width="0.8"/>
<rect x="552" y="226.2" width="3.5" height="15.2" fill="#eeb08e" stroke="#4a2a1c" stroke-width="0.6"/>
<rect x="576" y="226.2" width="3.5" height="15.2" fill="#eeb08e" stroke="#4a2a1c" stroke-width="0.6"/>
<line x1="553" y1="246" x2="578" y2="266" stroke="#1a1a1a" stroke-width="0.8"/>
<line x1="578" y1="246" x2="553" y2="266" stroke="#1a1a1a" stroke-width="0.8"/>
<line x1="553" y1="272" x2="578" y2="312" stroke="#1a1a1a" stroke-width="0.8"/>
<line x1="578" y1="272" x2="553" y2="312" stroke="#1a1a1a" stroke-width="0.8"/>
<rect x="502.5" y="328.7" width="45.1" height="4.2" fill="#eeb08e" stroke="#4a2a1c" stroke-width="0.6"/>
<line x1="502.5" y1="324.5" x2="547.6" y2="324.5" stroke="#1a1a1a" stroke-width="0.8"/>
<polyline points="585,256 590,249 593,254 598,246 611,258" fill="none" stroke="#1a1a1a" stroke-width="0.8" stroke-linejoin="miter"/>
<polyline points="585,333 590,325 593,330 598,322 611,334" fill="none" stroke="#1a1a1a" stroke-width="0.8" stroke-linejoin="miter"/>
<polyline points="502,338 498,346 502,352" fill="none" stroke="#1a1a1a" stroke-width="0.8" stroke-linejoin="miter"/>
<rect x="478" y="316" width="20" height="4" fill="#eeb08e" stroke="#4a2a1c" stroke-width="0.6"/>
<rect x="615.7" y="316" width="19.3" height="4" fill="#eeb08e" stroke="#4a2a1c" stroke-width="0.6"/>
<rect x="296.3" y="214.3" width="54.3" height="21.0" fill="#f2e5f2" stroke="#1a1a1a" stroke-width="1.5"/>
<rect x="54.3" y="297" width="21.2" height="53.5" fill="#f2e5f2" stroke="#1a1a1a" stroke-width="1.5"/>
<rect x="54.6" y="454.6" width="20.9" height="52.4" fill="#d7e6e6" stroke="#1a1a1a" stroke-width="1.5"/>
<rect x="311.5" y="534.3" width="21.0" height="52.1" fill="#cadb8d" stroke="#1a1a1a" stroke-width="1.5"/>
<rect x="54.6" y="654.3" width="20.9" height="51.7" fill="#fdf6dc" stroke="#1a1a1a" stroke-width="1.5"/>
<rect x="311.5" y="721.5" width="20.4" height="52.1" fill="#d5e8ec" stroke="#1a1a1a" stroke-width="1.5"/>
<rect x="432" y="214.3" width="61" height="21.0" fill="#cecbe7" stroke="#1a1a1a" stroke-width="1.5"/>
<rect x="621" y="214.3" width="61.3" height="21.0" fill="#d6ebd6" stroke="#1a1a1a" stroke-width="1.5"/>
<rect x="490.4" y="470.4" width="53.0" height="21.2" fill="#d0e0f2" stroke="#1a1a1a" stroke-width="1.5"/>
<rect x="608.4" y="470.4" width="53.0" height="21.2" fill="#f0cfdc" stroke="#1a1a1a" stroke-width="1.5"/>
<rect x="333" y="235.5" width="15.6" height="9.5" fill="#f2e5f2" stroke="#1a1a1a" stroke-width="0.7"/>
<rect x="333" y="244.6" width="15.6" height="1.4" fill="#f2e5f2"/>
<polyline points="333.5,242.6 334,248.4 347.8,244.4" fill="none" stroke="#1a1a1a" stroke-width="0.8" stroke-linejoin="miter"/>
<rect x="75.5" y="333.3" width="9.8" height="17.2" fill="#f2e5f2"/>
<line x1="75.5" y1="333.3" x2="85.3" y2="333.3" stroke="#1a1a1a" stroke-width="0.9"/>
<line x1="75.5" y1="350.5" x2="85.3" y2="350.5" stroke="#1a1a1a" stroke-width="0.9"/>
<polyline points="82.5,333.8 88.8,335.6 83.6,349.8" fill="none" stroke="#1a1a1a" stroke-width="0.8" stroke-linejoin="miter"/>
<rect x="75.5" y="489.1" width="9.8" height="17.4" fill="#d7e6e6"/>
<line x1="75.5" y1="489.1" x2="85.3" y2="489.1" stroke="#1a1a1a" stroke-width="0.9"/>
<line x1="75.5" y1="506.5" x2="85.3" y2="506.5" stroke="#1a1a1a" stroke-width="0.9"/>
<polyline points="82.5,489.9 88.8,491.7 83.6,505" fill="none" stroke="#1a1a1a" stroke-width="0.8" stroke-linejoin="miter"/>
<rect x="75.5" y="655.2" width="9.8" height="15.8" fill="#fdf6dc"/>
<line x1="75.5" y1="655.2" x2="85.3" y2="655.2" stroke="#1a1a1a" stroke-width="0.9"/>
<line x1="75.5" y1="671" x2="85.3" y2="671" stroke="#1a1a1a" stroke-width="0.9"/>
<polyline points="76.2,655.5 70.7,670 76.6,670.7" fill="none" stroke="#1a1a1a" stroke-width="0.8" stroke-linejoin="miter"/>
<rect x="75.5" y="671" width="9.6" height="15.6" fill="#fff" stroke="#1a1a1a" stroke-width="0.7"/>
<rect x="79.1" y="671" width="1.6" height="15.6" fill="#1a1a1a"/>
<rect x="301.7" y="540.3" width="9.8" height="11.1" fill="#cadb8d"/>
<line x1="301.7" y1="540.3" x2="311.5" y2="540.3" stroke="#1a1a1a" stroke-width="0.9"/>
<line x1="301.7" y1="551.4" x2="311.5" y2="551.4" stroke="#1a1a1a" stroke-width="0.9"/>
<rect x="301.9" y="551.4" width="9.6" height="11.8" fill="#fff" stroke="#1a1a1a" stroke-width="0.7"/>
<rect x="306.3" y="551.4" width="1.6" height="11.8" fill="#1a1a1a"/>
<rect x="301.7" y="722" width="9.8" height="17" fill="#d5e8ec"/>
<line x1="301.7" y1="722" x2="311.5" y2="722" stroke="#1a1a1a" stroke-width="0.9"/>
<line x1="301.7" y1="739" x2="311.5" y2="739" stroke="#1a1a1a" stroke-width="0.9"/>
<polyline points="306,722.5 315,726 307,738.5" fill="none" stroke="#1a1a1a" stroke-width="0.8" stroke-linejoin="miter"/>
<text x="149.5" y="283.0" font-family="Liberation Sans" font-size="5.6" font-weight="normal" fill="#2a2a2a" text-anchor="middle" textLength="19.6" lengthAdjust="spacingAndGlyphs">36,10 м2</text>
<text x="224.8" y="283.0" font-family="Liberation Sans" font-size="5.6" font-weight="normal" fill="#2a2a2a" text-anchor="middle" textLength="19.6" lengthAdjust="spacingAndGlyphs">10,62 м2</text>
<text x="301.6" y="285.2" font-family="Liberation Sans" font-size="5.6" font-weight="normal" fill="#2a2a2a" text-anchor="middle" textLength="19.6" lengthAdjust="spacingAndGlyphs">30,96 м2</text>
<text x="226.7" y="335.3" font-family="Liberation Sans" font-size="5.6" font-weight="normal" fill="#2a2a2a" text-anchor="middle" textLength="19.6" lengthAdjust="spacingAndGlyphs">11,96 м2</text>
<text x="290.4" y="344.2" font-family="Liberation Sans" font-size="5.6" font-weight="normal" fill="#2a2a2a" text-anchor="middle" textLength="17.150000000000002" lengthAdjust="spacingAndGlyphs">8,73 м2</text>
<text x="336.5" y="346.3" font-family="Liberation Sans" font-size="5.6" font-weight="normal" fill="#2a2a2a" text-anchor="middle" textLength="17.150000000000002" lengthAdjust="spacingAndGlyphs">3,72 м2</text>
<text x="166.7" y="341.0" font-family="Liberation Sans" font-size="5.6" font-weight="normal" fill="#2a2a2a" text-anchor="middle" textLength="17.150000000000002" lengthAdjust="spacingAndGlyphs">3,10 м2</text>
<text x="194.3" y="338.2" font-family="Liberation Sans" font-size="5.6" font-weight="normal" fill="#2a2a2a" text-anchor="middle" textLength="17.150000000000002" lengthAdjust="spacingAndGlyphs">1,27 м2</text>
<text x="323.3" y="226.8" font-family="Liberation Sans" font-size="5.6" font-weight="normal" fill="#2a2a2a" text-anchor="middle" textLength="17.150000000000002" lengthAdjust="spacingAndGlyphs">4,29 м2</text>
<text x="64.8" y="326.8" font-family="Liberation Sans" font-size="5.6" font-weight="normal" fill="#2a2a2a" text-anchor="middle" textLength="17.150000000000002" lengthAdjust="spacingAndGlyphs">4,29 м2</text>
<text x="128.9" y="387.0" font-family="Liberation Sans" font-size="5.6" font-weight="normal" fill="#2a2a2a" text-anchor="middle" textLength="19.6" lengthAdjust="spacingAndGlyphs">15,03 м2</text>
<text x="125.7" y="436.3" font-family="Liberation Sans" font-size="5.6" font-weight="normal" fill="#2a2a2a" text-anchor="middle" textLength="19.6" lengthAdjust="spacingAndGlyphs">15,03 м2</text>
<text x="184.6" y="413.8" font-family="Liberation Sans" font-size="5.6" font-weight="normal" fill="#2a2a2a" text-anchor="middle" textLength="19.6" lengthAdjust="spacingAndGlyphs">11,23 м2</text>
<text x="211.4" y="424.5" font-family="Liberation Sans" font-size="5.6" font-weight="normal" fill="#2a2a2a" text-anchor="middle" textLength="17.150000000000002" lengthAdjust="spacingAndGlyphs">3,91 м2</text>
<text x="208.2" y="453.4" font-family="Liberation Sans" font-size="5.6" font-weight="normal" fill="#2a2a2a" text-anchor="middle" textLength="17.150000000000002" lengthAdjust="spacingAndGlyphs">1,87 м2</text>
<text x="64.6" y="483.4" font-family="Liberation Sans" font-size="5.6" font-weight="normal" fill="#2a2a2a" text-anchor="middle" textLength="17.150000000000002" lengthAdjust="spacingAndGlyphs">4,29 м2</text>
<text x="118.2" y="492.0" font-family="Liberation Sans" font-size="5.6" font-weight="normal" fill="#2a2a2a" text-anchor="middle" textLength="19.6" lengthAdjust="spacingAndGlyphs">20,70 м2</text>
<text x="126.8" y="556.6" font-family="Liberation Sans" font-size="5.6" font-weight="normal" fill="#2a2a2a" text-anchor="middle" textLength="19.6" lengthAdjust="spacingAndGlyphs">20,59 м2</text>
<text x="125.7" y="618.8" font-family="Liberation Sans" font-size="5.6" font-weight="normal" fill="#2a2a2a" text-anchor="middle" textLength="19.6" lengthAdjust="spacingAndGlyphs">12,55 м2</text>
<text x="192.1" y="580.2" font-family="Liberation Sans" font-size="5.6" font-weight="normal" fill="#2a2a2a" text-anchor="middle" textLength="19.6" lengthAdjust="spacingAndGlyphs">10,12 м2</text>
<text x="192.1" y="543.8" font-family="Liberation Sans" font-size="5.6" font-weight="normal" fill="#2a2a2a" text-anchor="middle" textLength="17.150000000000002" lengthAdjust="spacingAndGlyphs">3,41 м2</text>
<text x="214.6" y="542.7" font-family="Liberation Sans" font-size="5.6" font-weight="normal" fill="#2a2a2a" text-anchor="middle" textLength="17.150000000000002" lengthAdjust="spacingAndGlyphs">1,17 м2</text>
<text x="289.6" y="586.0" font-family="Liberation Sans" font-size="5.6" font-weight="normal" fill="#2a2a2a" text-anchor="middle" textLength="19.6" lengthAdjust="spacingAndGlyphs">19,32 м2</text>
<text x="322.8" y="564.6" font-family="Liberation Sans" font-size="5.6" font-weight="normal" fill="#2a2a2a" text-anchor="middle" textLength="17.150000000000002" lengthAdjust="spacingAndGlyphs">4,29 м2</text>
<text x="65.7" y="682.4" font-family="Liberation Sans" font-size="5.6" font-weight="normal" fill="#2a2a2a" text-anchor="middle" textLength="17.150000000000002" lengthAdjust="spacingAndGlyphs">4,29 м2</text>
<text x="106.4" y="677.0" font-family="Liberation Sans" font-size="5.6" font-weight="normal" fill="#2a2a2a" text-anchor="middle" textLength="19.6" lengthAdjust="spacingAndGlyphs">10,29 м2</text>
<text x="153.6" y="687.7" font-family="Liberation Sans" font-size="5.6" font-weight="normal" fill="#2a2a2a" text-anchor="middle" textLength="17.150000000000002" lengthAdjust="spacingAndGlyphs">5,28 м2</text>
<text x="143.9" y="667.0" font-family="Liberation Sans" font-size="5.6" font-weight="normal" fill="#2a2a2a" text-anchor="middle" textLength="17.150000000000002" lengthAdjust="spacingAndGlyphs">3,41 м2</text>
<text x="155.7" y="753.0" font-family="Liberation Sans" font-size="5.6" font-weight="normal" fill="#2a2a2a" text-anchor="middle" textLength="19.6" lengthAdjust="spacingAndGlyphs">13,89 м2</text>
<text x="200.7" y="748.8" font-family="Liberation Sans" font-size="5.6" font-weight="normal" fill="#2a2a2a" text-anchor="middle" textLength="19.6" lengthAdjust="spacingAndGlyphs">12,87 м2</text>
<text x="158.9" y="801.3" font-family="Liberation Sans" font-size="5.6" font-weight="normal" fill="#2a2a2a" text-anchor="middle" textLength="19.6" lengthAdjust="spacingAndGlyphs">18,66 м2</text>
<text x="190" y="799.1" font-family="Liberation Sans" font-size="5.6" font-weight="normal" fill="#2a2a2a" text-anchor="middle" textLength="17.150000000000002" lengthAdjust="spacingAndGlyphs">2,05 м2</text>
<text x="213.6" y="799.1" font-family="Liberation Sans" font-size="5.6" font-weight="normal" fill="#2a2a2a" text-anchor="middle" textLength="17.150000000000002" lengthAdjust="spacingAndGlyphs">3,26 м2</text>
<text x="265" y="738.0" font-family="Liberation Sans" font-size="5.6" font-weight="normal" fill="#2a2a2a" text-anchor="middle" textLength="19.6" lengthAdjust="spacingAndGlyphs">14,50 м2</text>
<text x="265" y="789.5" font-family="Liberation Sans" font-size="5.6" font-weight="normal" fill="#2a2a2a" text-anchor="middle" textLength="19.6" lengthAdjust="spacingAndGlyphs">15,13 м2</text>
<text x="321.8" y="748.1" font-family="Liberation Sans" font-size="5.6" font-weight="normal" fill="#2a2a2a" text-anchor="middle" textLength="17.150000000000002" lengthAdjust="spacingAndGlyphs">4,29 м2</text>
<text x="464.8" y="226.4" font-family="Liberation Sans" font-size="5.6" font-weight="normal" fill="#2a2a2a" text-anchor="middle" textLength="17.150000000000002" lengthAdjust="spacingAndGlyphs">4,86 м2</text>
<text x="471.4" y="289.6" font-family="Liberation Sans" font-size="5.6" font-weight="normal" fill="#2a2a2a" text-anchor="middle" textLength="19.6" lengthAdjust="spacingAndGlyphs">17,51 м2</text>
<text x="438.1" y="343.9" font-family="Liberation Sans" font-size="5.6" font-weight="normal" fill="#2a2a2a" text-anchor="middle" textLength="17.150000000000002" lengthAdjust="spacingAndGlyphs">7,84 м2</text>
<text x="398.1" y="348.7" font-family="Liberation Sans" font-size="5.6" font-weight="normal" fill="#2a2a2a" text-anchor="middle" textLength="17.150000000000002" lengthAdjust="spacingAndGlyphs">3,49 м2</text>
<text x="399" y="372.5" font-family="Liberation Sans" font-size="5.6" font-weight="normal" fill="#2a2a2a" text-anchor="middle" textLength="17.150000000000002" lengthAdjust="spacingAndGlyphs">1,87 м2</text>
<text x="409.5" y="423.0" font-family="Liberation Sans" font-size="5.6" font-weight="normal" fill="#2a2a2a" text-anchor="middle" textLength="19.6" lengthAdjust="spacingAndGlyphs">17,05 м2</text>
<text x="501.9" y="382.5" font-family="Liberation Sans" font-size="5.6" font-weight="normal" fill="#2a2a2a" text-anchor="middle" textLength="17.150000000000002" lengthAdjust="spacingAndGlyphs">9,32 м2</text>
<text x="488.6" y="457.2" font-family="Liberation Sans" font-size="5.6" font-weight="normal" fill="#2a2a2a" text-anchor="middle" textLength="19.6" lengthAdjust="spacingAndGlyphs">15,08 м2</text>
<text x="516.9" y="483.3" font-family="Liberation Sans" font-size="5.6" font-weight="normal" fill="#2a2a2a" text-anchor="middle" textLength="17.150000000000002" lengthAdjust="spacingAndGlyphs">4,29 м2</text>
<text x="535.2" y="386.3" font-family="Liberation Sans" font-size="5.6" font-weight="normal" fill="#2a2a2a" text-anchor="middle" textLength="17.150000000000002" lengthAdjust="spacingAndGlyphs">3,78 м2</text>
<text x="528.6" y="432.0" font-family="Liberation Sans" font-size="5.6" font-weight="normal" fill="#2a2a2a" text-anchor="middle" textLength="19.6" lengthAdjust="spacingAndGlyphs">10,85 м2</text>
<text x="585.7" y="383.4" font-family="Liberation Sans" font-size="5.6" font-weight="normal" fill="#2a2a2a" text-anchor="middle" textLength="17.150000000000002" lengthAdjust="spacingAndGlyphs">9,50 м2</text>
<text x="584.8" y="453.0" font-family="Liberation Sans" font-size="5.6" font-weight="normal" fill="#2a2a2a" text-anchor="middle" textLength="19.6" lengthAdjust="spacingAndGlyphs">13,93 м2</text>
<text x="635.2" y="480.5" font-family="Liberation Sans" font-size="5.6" font-weight="normal" fill="#2a2a2a" text-anchor="middle" textLength="17.150000000000002" lengthAdjust="spacingAndGlyphs">4,29 м2</text>
<text x="643.5" y="386.2" font-family="Liberation Sans" font-size="5.6" font-weight="normal" fill="#2a2a2a" text-anchor="middle" textLength="17.150000000000002" lengthAdjust="spacingAndGlyphs">4,10 м2</text>
<text x="669.8" y="341.7" font-family="Liberation Sans" font-size="5.6" font-weight="normal" fill="#2a2a2a" text-anchor="middle" textLength="17.150000000000002" lengthAdjust="spacingAndGlyphs">9,60 м2</text>
<text x="709.2" y="349.2" font-family="Liberation Sans" font-size="5.6" font-weight="normal" fill="#2a2a2a" text-anchor="middle" textLength="17.150000000000002" lengthAdjust="spacingAndGlyphs">3,49 м2</text>
<text x="708.2" y="373.5" font-family="Liberation Sans" font-size="5.6" font-weight="normal" fill="#2a2a2a" text-anchor="middle" textLength="17.150000000000002" lengthAdjust="spacingAndGlyphs">1,87 м2</text>
<text x="642.5" y="436.2" font-family="Liberation Sans" font-size="5.6" font-weight="normal" fill="#2a2a2a" text-anchor="middle" textLength="19.6" lengthAdjust="spacingAndGlyphs">10,48 м2</text>
<text x="716.3" y="456.4" font-family="Liberation Sans" font-size="5.6" font-weight="normal" fill="#2a2a2a" text-anchor="middle" textLength="19.6" lengthAdjust="spacingAndGlyphs">17,35 м2</text>
<text x="653.3" y="227.7" font-family="Liberation Sans" font-size="5.6" font-weight="normal" fill="#2a2a2a" text-anchor="middle" textLength="17.150000000000002" lengthAdjust="spacingAndGlyphs">4,84 м2</text>
<text x="642.9" y="283.9" font-family="Liberation Sans" font-size="5.6" font-weight="normal" fill="#2a2a2a" text-anchor="middle" textLength="19.6" lengthAdjust="spacingAndGlyphs">13,87 м2</text>
<text x="699" y="283.9" font-family="Liberation Sans" font-size="5.6" font-weight="normal" fill="#2a2a2a" text-anchor="middle" textLength="19.6" lengthAdjust="spacingAndGlyphs">16,50 м2</text>
<path d="M101.8,306.5 C102.10000000000001,304.40000000000003 103.4,303.40000000000003 104.9,303.40000000000003 C106.7,303.40000000000003 107.9,304.7 107.9,306.6 C107.9,308.6 106.60000000000001,309.90000000000003 101.60000000000001,315.6 L108.5,315.6" fill="none" stroke="#4a4a4a" stroke-width="0.95"/>
<line x1="114.5" y1="294.4" x2="114.5" y2="320.04999999999995" stroke="#1a1a1a" stroke-width="1.0"/>
<line x1="114.5" y1="302.5" x2="133.3" y2="302.5" stroke="#1a1a1a" stroke-width="1.0"/>
<text x="115.89999999999999" y="300.6" font-family="Liberation Sans" font-size="5.6" font-weight="normal" fill="#2a2a2a" text-anchor="start" textLength="12.25" lengthAdjust="spacingAndGlyphs">46,72</text>
<line x1="114.5" y1="311.5" x2="133.3" y2="311.5" stroke="#1a1a1a" stroke-width="1.0"/>
<text x="115.89999999999999" y="309.6" font-family="Liberation Sans" font-size="5.6" font-weight="normal" fill="#2a2a2a" text-anchor="start" textLength="14.700000000000001" lengthAdjust="spacingAndGlyphs">106,46</text>
<line x1="114.5" y1="320.5" x2="133.3" y2="320.5" stroke="#1a1a1a" stroke-width="1.0"/>
<text x="115.89999999999999" y="318.6" font-family="Liberation Sans" font-size="5.6" font-weight="normal" fill="#2a2a2a" text-anchor="start" textLength="14.700000000000001" lengthAdjust="spacingAndGlyphs">109,04</text>
<path d="M134.5,487.0 C134.8,484.90000000000003 136.1,483.90000000000003 137.6,483.90000000000003 C139.4,483.90000000000003 140.6,485.2 140.6,487.1 C140.6,489.1 139.3,490.40000000000003 134.3,496.1 L141.20000000000002,496.1" fill="none" stroke="#4a4a4a" stroke-width="0.95"/>
<line x1="146.5" y1="474.6" x2="146.5" y2="498.6" stroke="#1a1a1a" stroke-width="1.0"/>
<line x1="146.5" y1="482.5" x2="162.1" y2="482.5" stroke="#1a1a1a" stroke-width="1.0"/>
<text x="148.1" y="480.6" font-family="Liberation Sans" font-size="5.6" font-weight="normal" fill="#2a2a2a" text-anchor="start" textLength="12.25" lengthAdjust="spacingAndGlyphs">30,06</text>
<line x1="146.5" y1="490.5" x2="162.1" y2="490.5" stroke="#1a1a1a" stroke-width="1.0"/>
<text x="148.1" y="488.6" font-family="Liberation Sans" font-size="5.6" font-weight="normal" fill="#2a2a2a" text-anchor="start" textLength="12.25" lengthAdjust="spacingAndGlyphs">67,44</text>
<line x1="146.5" y1="498.5" x2="162.1" y2="498.5" stroke="#1a1a1a" stroke-width="1.0"/>
<text x="148.1" y="496.6" font-family="Liberation Sans" font-size="5.6" font-weight="normal" fill="#2a2a2a" text-anchor="start" textLength="12.25" lengthAdjust="spacingAndGlyphs">68,73</text>
<path d="M244.9,557.0 C245.20000000000002,554.9 246.5,553.9 248.0,553.9 C249.8,553.9 251.0,555.1999999999999 251.0,557.0999999999999 C251.0,559.0999999999999 249.70000000000002,560.4 244.70000000000002,566.0999999999999 L251.60000000000002,566.0999999999999" fill="none" stroke="#4a4a4a" stroke-width="0.95"/>
<line x1="256.5" y1="543.4" x2="256.5" y2="568.0" stroke="#1a1a1a" stroke-width="1.0"/>
<line x1="256.5" y1="551.5" x2="273.6" y2="551.5" stroke="#1a1a1a" stroke-width="1.0"/>
<text x="258.0" y="549.6" font-family="Liberation Sans" font-size="5.6" font-weight="normal" fill="#2a2a2a" text-anchor="start" textLength="12.25" lengthAdjust="spacingAndGlyphs">33,09</text>
<line x1="256.5" y1="559.5" x2="273.6" y2="559.5" stroke="#1a1a1a" stroke-width="1.0"/>
<text x="258.0" y="557.6" font-family="Liberation Sans" font-size="5.6" font-weight="normal" fill="#2a2a2a" text-anchor="start" textLength="12.25" lengthAdjust="spacingAndGlyphs">68,31</text>
<line x1="256.5" y1="568.5" x2="273.6" y2="568.5" stroke="#1a1a1a" stroke-width="1.0"/>
<text x="258.0" y="566.6" font-family="Liberation Sans" font-size="5.6" font-weight="normal" fill="#2a2a2a" text-anchor="start" textLength="12.25" lengthAdjust="spacingAndGlyphs">69,60</text>
<path d="M117.7,732.5 L120.2,731.1 L120.2,743.3" fill="none" stroke="#4a4a4a" stroke-width="1.0"/>
<line x1="128.5" y1="723.6" x2="128.5" y2="747.9" stroke="#1a1a1a" stroke-width="1.0"/>
<line x1="128.5" y1="731.5" x2="142.9" y2="731.5" stroke="#1a1a1a" stroke-width="1.0"/>
<text x="129.9" y="729.6" font-family="Liberation Sans" font-size="5.6" font-weight="normal" fill="#2a2a2a" text-anchor="start" textLength="12.25" lengthAdjust="spacingAndGlyphs">13,89</text>
<line x1="128.5" y1="739.5" x2="142.9" y2="739.5" stroke="#1a1a1a" stroke-width="1.0"/>
<text x="129.9" y="737.6" font-family="Liberation Sans" font-size="5.6" font-weight="normal" fill="#2a2a2a" text-anchor="start" textLength="12.25" lengthAdjust="spacingAndGlyphs">32,87</text>
<line x1="128.5" y1="747.5" x2="142.9" y2="747.5" stroke="#1a1a1a" stroke-width="1.0"/>
<text x="129.9" y="745.6" font-family="Liberation Sans" font-size="5.6" font-weight="normal" fill="#2a2a2a" text-anchor="start" textLength="12.25" lengthAdjust="spacingAndGlyphs">34,16</text>
<path d="M104.5,787.7 C104.80000000000001,785.6 106.10000000000001,784.6 107.60000000000001,784.6 C109.4,784.6 110.60000000000001,785.9 110.60000000000001,787.8 C110.60000000000001,789.8 109.30000000000001,791.1 104.30000000000001,796.8 L111.2,796.8" fill="none" stroke="#4a4a4a" stroke-width="0.95"/>
<line x1="116.5" y1="776.7" x2="116.5" y2="801.3000000000001" stroke="#1a1a1a" stroke-width="1.0"/>
<line x1="116.5" y1="784.5" x2="132.1" y2="784.5" stroke="#1a1a1a" stroke-width="1.0"/>
<text x="118.1" y="782.6" font-family="Liberation Sans" font-size="5.6" font-weight="normal" fill="#2a2a2a" text-anchor="start" textLength="12.25" lengthAdjust="spacingAndGlyphs">29,63</text>
<line x1="116.5" y1="793.5" x2="132.1" y2="793.5" stroke="#1a1a1a" stroke-width="1.0"/>
<text x="118.1" y="791.6" font-family="Liberation Sans" font-size="5.6" font-weight="normal" fill="#2a2a2a" text-anchor="start" textLength="12.25" lengthAdjust="spacingAndGlyphs">66,42</text>
<line x1="116.5" y1="801.5" x2="132.1" y2="801.5" stroke="#1a1a1a" stroke-width="1.0"/>
<text x="118.1" y="799.6" font-family="Liberation Sans" font-size="5.6" font-weight="normal" fill="#2a2a2a" text-anchor="start" textLength="12.25" lengthAdjust="spacingAndGlyphs">67,71</text>
<path d="M393.2,287.5 C393.49999999999994,285.40000000000003 394.79999999999995,284.40000000000003 396.29999999999995,284.40000000000003 C398.09999999999997,284.40000000000003 399.29999999999995,285.7 399.29999999999995,287.6 C399.29999999999995,289.6 397.99999999999994,290.90000000000003 392.99999999999994,296.6 L399.9,296.6" fill="none" stroke="#4a4a4a" stroke-width="0.95"/>
<line x1="405.5" y1="278.1" x2="405.5" y2="303.81" stroke="#1a1a1a" stroke-width="1.0"/>
<line x1="405.5" y1="286.5" x2="421" y2="286.5" stroke="#1a1a1a" stroke-width="1.0"/>
<text x="406.90000000000003" y="284.6" font-family="Liberation Sans" font-size="5.6" font-weight="normal" fill="#2a2a2a" text-anchor="start" textLength="12.25" lengthAdjust="spacingAndGlyphs">34,86</text>
<line x1="405.5" y1="295.5" x2="421" y2="295.5" stroke="#1a1a1a" stroke-width="1.0"/>
<text x="406.90000000000003" y="293.6" font-family="Liberation Sans" font-size="5.6" font-weight="normal" fill="#2a2a2a" text-anchor="start" textLength="12.25" lengthAdjust="spacingAndGlyphs">65,20</text>
<line x1="405.5" y1="303.5" x2="421" y2="303.5" stroke="#1a1a1a" stroke-width="1.0"/>
<text x="406.90000000000003" y="301.6" font-family="Liberation Sans" font-size="5.6" font-weight="normal" fill="#2a2a2a" text-anchor="start" textLength="12.25" lengthAdjust="spacingAndGlyphs">66,65</text>
<path d="M455.59999999999997,427.8 L458.09999999999997,426.4 L458.09999999999997,438.59999999999997" fill="none" stroke="#4a4a4a" stroke-width="1.0"/>
<line x1="467.5" y1="418" x2="467.5" y2="443.8" stroke="#1a1a1a" stroke-width="1.0"/>
<line x1="467.5" y1="426.5" x2="482.9" y2="426.5" stroke="#1a1a1a" stroke-width="1.0"/>
<text x="469.20000000000005" y="424.6" font-family="Liberation Sans" font-size="5.6" font-weight="normal" fill="#2a2a2a" text-anchor="start" textLength="12.25" lengthAdjust="spacingAndGlyphs">15,08</text>
<line x1="467.5" y1="435.5" x2="482.9" y2="435.5" stroke="#1a1a1a" stroke-width="1.0"/>
<text x="469.20000000000005" y="433.6" font-family="Liberation Sans" font-size="5.6" font-weight="normal" fill="#2a2a2a" text-anchor="start" textLength="12.25" lengthAdjust="spacingAndGlyphs">38,71</text>
<line x1="467.5" y1="443.5" x2="482.9" y2="443.5" stroke="#1a1a1a" stroke-width="1.0"/>
<text x="469.20000000000005" y="441.6" font-family="Liberation Sans" font-size="5.6" font-weight="normal" fill="#2a2a2a" text-anchor="start" textLength="12.25" lengthAdjust="spacingAndGlyphs">40,00</text>
<path d="M576.5000000000001,427.3 L579.0000000000001,425.9 L579.0000000000001,438.09999999999997" fill="none" stroke="#4a4a4a" stroke-width="1.0"/>
<line x1="585.5" y1="418.6" x2="585.5" y2="444.31" stroke="#1a1a1a" stroke-width="1.0"/>
<line x1="585.5" y1="427.5" x2="601" y2="427.5" stroke="#1a1a1a" stroke-width="1.0"/>
<text x="586.9" y="425.6" font-family="Liberation Sans" font-size="5.6" font-weight="normal" fill="#2a2a2a" text-anchor="start" textLength="12.25" lengthAdjust="spacingAndGlyphs">13,93</text>
<line x1="585.5" y1="435.5" x2="601" y2="435.5" stroke="#1a1a1a" stroke-width="1.0"/>
<text x="586.9" y="433.6" font-family="Liberation Sans" font-size="5.6" font-weight="normal" fill="#2a2a2a" text-anchor="start" textLength="12.25" lengthAdjust="spacingAndGlyphs">38,01</text>
<line x1="585.5" y1="444.5" x2="601" y2="444.5" stroke="#1a1a1a" stroke-width="1.0"/>
<text x="586.9" y="442.6" font-family="Liberation Sans" font-size="5.6" font-weight="normal" fill="#2a2a2a" text-anchor="start" textLength="12.25" lengthAdjust="spacingAndGlyphs">39,30</text>
<path d="M683.6,423.7 C683.9,421.6 685.2,420.6 686.7,420.6 C688.5,420.6 689.7,421.9 689.7,423.8 C689.7,425.8 688.4,427.1 683.4,432.8 L690.3,432.8" fill="none" stroke="#4a4a4a" stroke-width="0.95"/>
<line x1="695.5" y1="412" x2="695.5" y2="437.2" stroke="#1a1a1a" stroke-width="1.0"/>
<line x1="695.5" y1="420.5" x2="710.7" y2="420.5" stroke="#1a1a1a" stroke-width="1.0"/>
<text x="696.9" y="418.6" font-family="Liberation Sans" font-size="5.6" font-weight="normal" fill="#2a2a2a" text-anchor="start" textLength="12.25" lengthAdjust="spacingAndGlyphs">31,22</text>
<line x1="695.5" y1="428.5" x2="710.7" y2="428.5" stroke="#1a1a1a" stroke-width="1.0"/>
<text x="696.9" y="426.6" font-family="Liberation Sans" font-size="5.6" font-weight="normal" fill="#2a2a2a" text-anchor="start" textLength="12.25" lengthAdjust="spacingAndGlyphs">62,68</text>
<line x1="695.5" y1="437.5" x2="710.7" y2="437.5" stroke="#1a1a1a" stroke-width="1.0"/>
<text x="696.9" y="435.6" font-family="Liberation Sans" font-size="5.6" font-weight="normal" fill="#2a2a2a" text-anchor="start" textLength="12.25" lengthAdjust="spacingAndGlyphs">64,13</text>
<path d="M394.5,657 L394.5,605 L698.2,605 L698.2,657" fill="none" stroke="#222" stroke-width="1.1"/>
<path d="M394.5,657 L394.5,804.2 L698.2,804.2 L698.2,657 Z" fill="none" stroke="#1a1a1a" stroke-width="1.1" stroke-dasharray="10,2.5,1.5,2.5"/>
<text x="468.6" y="636.3" font-family="Liberation Sans" font-size="15.8" font-weight="bold" fill="#1f1f1f" text-anchor="start" textLength="137.4" lengthAdjust="spacingAndGlyphs">СХЕМА БЛОКИРОВКИ</text>
<rect x="449.3" y="683.7" width="5.2" height="4.4" fill="#fff" stroke="#1a1a1a" stroke-width="0.9"/>
<rect x="459.6" y="683.7" width="5.1" height="4.4" fill="#fff" stroke="#1a1a1a" stroke-width="0.9"/>
<rect x="514.8" y="683.7" width="5.9" height="4.4" fill="#fff" stroke="#1a1a1a" stroke-width="0.9"/>
<rect x="562.8" y="683.7" width="6.0" height="4.4" fill="#fff" stroke="#1a1a1a" stroke-width="0.9"/>
<rect x="610.6" y="683.7" width="5.7" height="4.4" fill="#fff" stroke="#1a1a1a" stroke-width="0.9"/>
<rect x="626.5" y="683.7" width="6.5" height="4.4" fill="#fff" stroke="#1a1a1a" stroke-width="0.9"/>
<rect x="636.8" y="683.7" width="5.2" height="4.4" fill="#fff" stroke="#1a1a1a" stroke-width="0.9"/>
<rect x="489.1" y="674.2" width="17.2" height="13.9" fill="#58a4b4" stroke="#1a1a1a" stroke-width="0.9"/>
<rect x="489.1" y="674.2" width="17.2" height="2.3" fill="#fff" stroke="#1a1a1a" stroke-width="0.9"/>
<line x1="492.1" y1="678.5" x2="503.3" y2="678.5" stroke="#1a1a1a" stroke-width="1.0"/>
<rect x="537.2" y="674.2" width="17.4" height="13.9" fill="#e9e9e9" stroke="#1a1a1a" stroke-width="0.9"/>
<rect x="537.2" y="674.2" width="17.4" height="2.3" fill="#fff" stroke="#1a1a1a" stroke-width="0.9"/>
<line x1="540.2" y1="678.5" x2="551.6" y2="678.5" stroke="#1a1a1a" stroke-width="1.0"/>
<rect x="585.4" y="674.2" width="17.0" height="13.9" fill="#e9e9e9" stroke="#1a1a1a" stroke-width="0.9"/>
<rect x="585.4" y="674.2" width="17.0" height="2.3" fill="#fff" stroke="#1a1a1a" stroke-width="0.9"/>
<line x1="588.4" y1="678.5" x2="599.4" y2="678.5" stroke="#1a1a1a" stroke-width="1.0"/>
<polygon points="433.9,692.5 437.5,688.1 471.9,688.1 471.9,726.1 433.9,726.1" fill="#58a4b4" stroke="#1a1a1a" stroke-width="1.3" stroke-linejoin="miter"/>
<polygon points="473.7,688.9 522,688.9 522,717.6 473.7,717.6" fill="#58a4b4" stroke="#1a1a1a" stroke-width="1.3" stroke-linejoin="miter"/>
<polygon points="522,688.9 570,688.9 570,717.6 522,717.6" fill="#e9e9e9" stroke="#1a1a1a" stroke-width="1.3" stroke-linejoin="miter"/>
<polygon points="570,688.9 617.5,688.9 617.5,717.6 570,717.6" fill="#e9e9e9" stroke="#1a1a1a" stroke-width="1.3" stroke-linejoin="miter"/>
<polygon points="619.3,688 653.5,688 657.3,692.5 657.3,726.1 619.3,726.1" fill="#e9e9e9" stroke="#1a1a1a" stroke-width="1.3" stroke-linejoin="miter"/>
<polygon points="433.4,726.1 465.5,726.1 465.5,767.2 433.4,767.2" fill="#58a4b4" stroke="#1a1a1a" stroke-width="1.3" stroke-linejoin="miter"/>
<polygon points="626.5,726.1 657.3,726.1 657.3,767.2 626.5,767.2" fill="#e9e9e9" stroke="#1a1a1a" stroke-width="1.3" stroke-linejoin="miter"/>
<polygon points="487.5,735.9 596.4,735.9 596.4,779 527.3,779 527.3,766.5 487.5,766.5" fill="#e9e9e9" stroke="#1a1a1a" stroke-width="1.3" stroke-linejoin="miter"/>
<rect x="477.5" y="717.6" width="4.0" height="3.7" fill="#fff" stroke="#1a1a1a" stroke-width="0.9"/>
<rect x="484.5" y="717.6" width="4.0" height="3.7" fill="#fff" stroke="#1a1a1a" stroke-width="0.9"/>
<rect x="491.5" y="717.6" width="4.0" height="3.7" fill="#fff" stroke="#1a1a1a" stroke-width="0.9"/>
<rect x="499" y="717.6" width="4" height="3.7" fill="#fff" stroke="#1a1a1a" stroke-width="0.9"/>
<rect x="515" y="717.6" width="4" height="3.7" fill="#fff" stroke="#1a1a1a" stroke-width="0.9"/>
<rect x="528" y="717.6" width="4" height="3.7" fill="#fff" stroke="#1a1a1a" stroke-width="0.9"/>
<rect x="535" y="717.6" width="4" height="3.7" fill="#fff" stroke="#1a1a1a" stroke-width="0.9"/>
<rect x="542.5" y="717.6" width="4.0" height="3.7" fill="#fff" stroke="#1a1a1a" stroke-width="0.9"/>
<rect x="551" y="717.6" width="4" height="3.7" fill="#fff" stroke="#1a1a1a" stroke-width="0.9"/>
<rect x="568" y="717.6" width="4" height="3.7" fill="#fff" stroke="#1a1a1a" stroke-width="0.9"/>
<rect x="577" y="717.6" width="4" height="3.7" fill="#fff" stroke="#1a1a1a" stroke-width="0.9"/>
<rect x="584" y="717.6" width="4" height="3.7" fill="#fff" stroke="#1a1a1a" stroke-width="0.9"/>
<rect x="591" y="717.6" width="4" height="3.7" fill="#fff" stroke="#1a1a1a" stroke-width="0.9"/>
<rect x="599" y="717.6" width="4" height="3.7" fill="#fff" stroke="#1a1a1a" stroke-width="0.9"/>
<rect x="612" y="717.6" width="4" height="3.7" fill="#fff" stroke="#1a1a1a" stroke-width="0.9"/>
<rect x="500" y="717.6" width="4.5" height="5.9" fill="#fff" stroke="#1a1a1a" stroke-width="0.9"/>
<rect x="547" y="717.6" width="4.5" height="5.9" fill="#fff" stroke="#1a1a1a" stroke-width="0.9"/>
<rect x="597" y="717.6" width="4.5" height="5.9" fill="#fff" stroke="#1a1a1a" stroke-width="0.9"/>
<rect x="429.5" y="727" width="3.9" height="6" fill="#1a1a1a" stroke="#1a1a1a" stroke-width="0.9"/>
<rect x="431" y="742.5" width="2.4" height="4.5" fill="#fff" stroke="#1a1a1a" stroke-width="0.9"/>
<rect x="465.5" y="744.5" width="4.5" height="4.5" fill="#fff" stroke="#1a1a1a" stroke-width="0.9"/>
<rect x="465.5" y="751" width="2.5" height="5" fill="#fff" stroke="#1a1a1a" stroke-width="0.9"/>
<rect x="482.5" y="744" width="5.0" height="11" fill="#fff" stroke="#1a1a1a" stroke-width="0.9"/>
<rect x="482.5" y="751" width="5.0" height="8" fill="#1a1a1a"/>
<rect x="596.4" y="748" width="4.1" height="6" fill="#fff" stroke="#1a1a1a" stroke-width="0.9"/>
<rect x="596.4" y="754" width="4.1" height="11" fill="#1a1a1a"/>
<rect x="622" y="744.5" width="4.5" height="4.5" fill="#fff" stroke="#1a1a1a" stroke-width="0.9"/>
<rect x="624" y="751" width="2.5" height="5" fill="#fff" stroke="#1a1a1a" stroke-width="0.9"/>
<rect x="657.3" y="744.5" width="3.7" height="4.5" fill="#fff" stroke="#1a1a1a" stroke-width="0.9"/>
<rect x="657.3" y="727" width="4.2" height="6" fill="#1a1a1a" stroke="#1a1a1a" stroke-width="0.9"/>
<text x="451.8" y="705.5999999999999" font-family="Liberation Sans" font-size="5.8" font-weight="normal" fill="#333" text-anchor="middle" textLength="25.5" lengthAdjust="spacingAndGlyphs">подъезд 2</text>
<text x="496.2" y="705.5999999999999" font-family="Liberation Sans" font-size="5.8" font-weight="normal" fill="#333" text-anchor="middle" textLength="25.5" lengthAdjust="spacingAndGlyphs">подъезд 1</text>
<text x="449.8" y="748.4" font-family="Liberation Sans" font-size="5.8" font-weight="normal" fill="#333" text-anchor="middle" textLength="25.5" lengthAdjust="spacingAndGlyphs">подъезд 1</text>
</svg></body></html>
